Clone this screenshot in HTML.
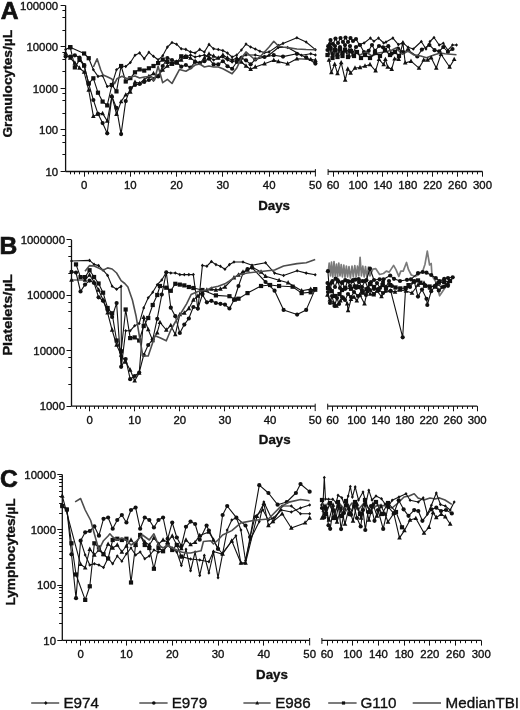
<!DOCTYPE html><html><head><meta charset="utf-8"><style>html,body{margin:0;padding:0;background:#fff;}svg{display:block;}text{font-family:"Liberation Sans",sans-serif;fill:#111;stroke:#111;stroke-width:0.35px;}svg{will-change:transform;}</style></head><body>
<svg width="520" height="710" viewBox="0 0 520 710">
<rect width="520" height="710" fill="#fff"/>
<path d="M65.60 5.40V171.50" stroke="#111" stroke-width="1.3" fill="none"/><text x="58.10" y="9.50" text-anchor="end" font-size="11.4">100000</text><text x="58.10" y="51.02" text-anchor="end" font-size="11.4">10000</text><text x="58.10" y="92.55" text-anchor="end" font-size="11.4">1000</text><text x="58.10" y="134.07" text-anchor="end" font-size="11.4">100</text><text x="58.10" y="175.60" text-anchor="end" font-size="11.4">10</text><path d="M60.60 5.50H65.60M62.40 30.50H65.60M62.40 17.50H65.60M62.40 10.50H65.60M60.60 46.50H65.60M62.40 71.50H65.60M62.40 59.50H65.60M62.40 52.50H65.60M60.60 88.50H65.60M62.40 113.50H65.60M62.40 100.50H65.60M62.40 93.50H65.60M60.60 129.50H65.60M62.40 154.50H65.60M62.40 142.50H65.60M62.40 135.50H65.60M60.60 171.50H65.60" stroke="#111" stroke-width="1" fill="none"/><path d="M65.60 171.50H315.40M328.10 171.50H482.50" stroke="#111" stroke-width="1.3" fill="none"/><text x="84.10" y="189.30" text-anchor="middle" font-size="11.4">0</text><text x="130.36" y="189.30" text-anchor="middle" font-size="11.4">10</text><text x="176.62" y="189.30" text-anchor="middle" font-size="11.4">20</text><text x="222.88" y="189.30" text-anchor="middle" font-size="11.4">30</text><text x="269.14" y="189.30" text-anchor="middle" font-size="11.4">40</text><text x="315.40" y="189.30" text-anchor="middle" font-size="11.4">50</text><text x="333.08" y="189.30" text-anchor="middle" font-size="11.4">60</text><text x="357.98" y="189.30" text-anchor="middle" font-size="11.4">100</text><text x="382.89" y="189.30" text-anchor="middle" font-size="11.4">140</text><text x="407.79" y="189.30" text-anchor="middle" font-size="11.4">180</text><text x="432.69" y="189.30" text-anchor="middle" font-size="11.4">220</text><text x="457.60" y="189.30" text-anchor="middle" font-size="11.4">260</text><text x="482.50" y="189.30" text-anchor="middle" font-size="11.4">300</text><path d="M70.50 171.50v2.8M74.50 171.50v2.8M79.50 171.50v2.8M84.50 171.50v5.2M88.50 171.50v2.8M93.50 171.50v2.8M97.50 171.50v2.8M102.50 171.50v2.8M107.50 171.50v2.8M111.50 171.50v2.8M116.50 171.50v2.8M121.50 171.50v2.8M125.50 171.50v2.8M130.50 171.50v5.2M134.50 171.50v2.8M139.50 171.50v2.8M144.50 171.50v2.8M148.50 171.50v2.8M153.50 171.50v2.8M158.50 171.50v2.8M162.50 171.50v2.8M167.50 171.50v2.8M171.50 171.50v2.8M176.50 171.50v5.2M181.50 171.50v2.8M185.50 171.50v2.8M190.50 171.50v2.8M195.50 171.50v2.8M199.50 171.50v2.8M204.50 171.50v2.8M209.50 171.50v2.8M213.50 171.50v2.8M218.50 171.50v2.8M222.50 171.50v5.2M227.50 171.50v2.8M232.50 171.50v2.8M236.50 171.50v2.8M241.50 171.50v2.8M246.50 171.50v2.8M250.50 171.50v2.8M255.50 171.50v2.8M259.50 171.50v2.8M264.50 171.50v2.8M269.50 171.50v5.2M273.50 171.50v2.8M278.50 171.50v2.8M283.50 171.50v2.8M287.50 171.50v2.8M292.50 171.50v2.8M296.50 171.50v2.8M301.50 171.50v2.8M306.50 171.50v2.8M310.50 171.50v2.8M315.40 169.10V176.50M328.10 169.10V175.00M333.50 171.50v5.2M338.50 171.50v2.8M343.50 171.50v2.8M348.50 171.50v2.8M353.50 171.50v2.8M357.50 171.50v5.2M362.50 171.50v2.8M367.50 171.50v2.8M372.50 171.50v2.8M377.50 171.50v2.8M382.50 171.50v5.2M387.50 171.50v2.8M392.50 171.50v2.8M397.50 171.50v2.8M402.50 171.50v2.8M407.50 171.50v5.2M412.50 171.50v2.8M417.50 171.50v2.8M422.50 171.50v2.8M427.50 171.50v2.8M432.50 171.50v5.2M437.50 171.50v2.8M442.50 171.50v2.8M447.50 171.50v2.8M452.50 171.50v2.8M457.50 171.50v5.2M462.50 171.50v2.8M467.50 171.50v2.8M472.50 171.50v2.8M477.50 171.50v2.8M482.50 171.50v5.2" stroke="#111" stroke-width="1" fill="none"/><text x="274.10" y="209.70" text-anchor="middle" font-size="13.3" font-weight="bold">Days</text><text x="0.8" y="18.8" font-size="24.6" font-weight="bold" style="stroke-width:0.7px">A</text><text transform="translate(11.8 137.6) rotate(-90)" font-size="13.3" font-weight="bold" textLength="107.6" lengthAdjust="spacingAndGlyphs">Granulocytes/µL</text>
<path d="M71.50 239.90V406.10" stroke="#111" stroke-width="1.3" fill="none"/><text x="65.00" y="244.00" text-anchor="end" font-size="11.4">1000000</text><text x="65.00" y="299.40" text-anchor="end" font-size="11.4">100000</text><text x="65.00" y="354.80" text-anchor="end" font-size="11.4">10000</text><text x="65.00" y="410.20" text-anchor="end" font-size="11.4">1000</text><path d="M66.50 239.50H71.50M68.30 273.50H71.50M68.30 256.50H71.50M68.30 246.50H71.50M66.50 295.50H71.50M68.30 328.50H71.50M68.30 311.50H71.50M68.30 302.50H71.50M66.50 350.50H71.50M68.30 384.50H71.50M68.30 367.50H71.50M68.30 357.50H71.50M66.50 406.50H71.50" stroke="#111" stroke-width="1" fill="none"/><path d="M71.50 406.10H315.20M327.70 406.10H477.20" stroke="#111" stroke-width="1.3" fill="none"/><text x="89.55" y="423.90" text-anchor="middle" font-size="11.4">0</text><text x="134.68" y="423.90" text-anchor="middle" font-size="11.4">10</text><text x="179.81" y="423.90" text-anchor="middle" font-size="11.4">20</text><text x="224.94" y="423.90" text-anchor="middle" font-size="11.4">30</text><text x="270.07" y="423.90" text-anchor="middle" font-size="11.4">40</text><text x="315.20" y="423.90" text-anchor="middle" font-size="11.4">50</text><text x="332.52" y="423.90" text-anchor="middle" font-size="11.4">60</text><text x="356.64" y="423.90" text-anchor="middle" font-size="11.4">100</text><text x="380.75" y="423.90" text-anchor="middle" font-size="11.4">140</text><text x="404.86" y="423.90" text-anchor="middle" font-size="11.4">180</text><text x="428.97" y="423.90" text-anchor="middle" font-size="11.4">220</text><text x="453.09" y="423.90" text-anchor="middle" font-size="11.4">260</text><text x="477.20" y="423.90" text-anchor="middle" font-size="11.4">300</text><path d="M76.50 406.10v2.8M80.50 406.10v2.8M85.50 406.10v2.8M89.50 406.10v5.2M94.50 406.10v2.8M98.50 406.10v2.8M103.50 406.10v2.8M107.50 406.10v2.8M112.50 406.10v2.8M116.50 406.10v2.8M121.50 406.10v2.8M125.50 406.10v2.8M130.50 406.10v2.8M134.50 406.10v5.2M139.50 406.10v2.8M143.50 406.10v2.8M148.50 406.10v2.8M152.50 406.10v2.8M157.50 406.10v2.8M161.50 406.10v2.8M166.50 406.10v2.8M170.50 406.10v2.8M175.50 406.10v2.8M179.50 406.10v5.2M184.50 406.10v2.8M188.50 406.10v2.8M193.50 406.10v2.8M197.50 406.10v2.8M202.50 406.10v2.8M206.50 406.10v2.8M211.50 406.10v2.8M215.50 406.10v2.8M220.50 406.10v2.8M224.50 406.10v5.2M229.50 406.10v2.8M233.50 406.10v2.8M238.50 406.10v2.8M242.50 406.10v2.8M247.50 406.10v2.8M252.50 406.10v2.8M256.50 406.10v2.8M261.50 406.10v2.8M265.50 406.10v2.8M270.50 406.10v5.2M274.50 406.10v2.8M279.50 406.10v2.8M283.50 406.10v2.8M288.50 406.10v2.8M292.50 406.10v2.8M297.50 406.10v2.8M301.50 406.10v2.8M306.50 406.10v2.8M310.50 406.10v2.8M315.20 403.70V411.10M327.70 403.70V409.60M332.50 406.10v5.2M337.50 406.10v2.8M342.50 406.10v2.8M346.50 406.10v2.8M351.50 406.10v2.8M356.50 406.10v5.2M361.50 406.10v2.8M366.50 406.10v2.8M371.50 406.10v2.8M375.50 406.10v2.8M380.50 406.10v5.2M385.50 406.10v2.8M390.50 406.10v2.8M395.50 406.10v2.8M400.50 406.10v2.8M404.50 406.10v5.2M409.50 406.10v2.8M414.50 406.10v2.8M419.50 406.10v2.8M424.50 406.10v2.8M428.50 406.10v5.2M433.50 406.10v2.8M438.50 406.10v2.8M443.50 406.10v2.8M448.50 406.10v2.8M453.50 406.10v5.2M457.50 406.10v2.8M462.50 406.10v2.8M467.50 406.10v2.8M472.50 406.10v2.8M477.50 406.10v5.2" stroke="#111" stroke-width="1" fill="none"/><text x="274.75" y="444.30" text-anchor="middle" font-size="13.3" font-weight="bold">Days</text><text x="-0.5" y="253.5" font-size="24.6" font-weight="bold" style="stroke-width:0.7px">B</text><text transform="translate(11.5 355.6) rotate(-90)" font-size="13.3" font-weight="bold" textLength="81.3" lengthAdjust="spacingAndGlyphs">Platelets/µL</text>
<path d="M62.30 474.40V640.40" stroke="#111" stroke-width="1.3" fill="none"/><text x="56.00" y="478.50" text-anchor="end" font-size="11.4">10000</text><text x="56.00" y="533.83" text-anchor="end" font-size="11.4">1000</text><text x="56.00" y="589.17" text-anchor="end" font-size="11.4">100</text><text x="56.00" y="644.50" text-anchor="end" font-size="11.4">10</text><path d="M57.30 474.50H62.30M59.10 513.50H62.30M59.10 503.50H62.30M59.10 496.50H62.30M59.10 491.50H62.30M59.10 486.50H62.30M59.10 482.50H62.30M59.10 479.50H62.30M59.10 476.50H62.30M57.30 529.50H62.30M59.10 568.50H62.30M59.10 558.50H62.30M59.10 551.50H62.30M59.10 546.50H62.30M59.10 542.50H62.30M59.10 538.50H62.30M59.10 535.50H62.30M59.10 532.50H62.30M57.30 585.50H62.30M59.10 623.50H62.30M59.10 613.50H62.30M59.10 607.50H62.30M59.10 601.50H62.30M59.10 597.50H62.30M59.10 593.50H62.30M59.10 590.50H62.30M59.10 587.50H62.30M57.30 640.50H62.30" stroke="#111" stroke-width="1" fill="none"/><path d="M62.30 640.40H309.65M321.90 640.40H481.30" stroke="#111" stroke-width="1.3" fill="none"/><text x="80.62" y="658.20" text-anchor="middle" font-size="11.4">0</text><text x="126.43" y="658.20" text-anchor="middle" font-size="11.4">10</text><text x="172.23" y="658.20" text-anchor="middle" font-size="11.4">20</text><text x="218.04" y="658.20" text-anchor="middle" font-size="11.4">30</text><text x="263.84" y="658.20" text-anchor="middle" font-size="11.4">40</text><text x="309.65" y="658.20" text-anchor="middle" font-size="11.4">50</text><text x="327.04" y="658.20" text-anchor="middle" font-size="11.4">60</text><text x="352.75" y="658.20" text-anchor="middle" font-size="11.4">100</text><text x="378.46" y="658.20" text-anchor="middle" font-size="11.4">140</text><text x="404.17" y="658.20" text-anchor="middle" font-size="11.4">180</text><text x="429.88" y="658.20" text-anchor="middle" font-size="11.4">220</text><text x="455.59" y="658.20" text-anchor="middle" font-size="11.4">260</text><text x="481.30" y="658.20" text-anchor="middle" font-size="11.4">300</text><path d="M66.50 640.40v2.8M71.50 640.40v2.8M76.50 640.40v2.8M80.50 640.40v5.2M85.50 640.40v2.8M89.50 640.40v2.8M94.50 640.40v2.8M98.50 640.40v2.8M103.50 640.40v2.8M108.50 640.40v2.8M112.50 640.40v2.8M117.50 640.40v2.8M121.50 640.40v2.8M126.50 640.40v5.2M131.50 640.40v2.8M135.50 640.40v2.8M140.50 640.40v2.8M144.50 640.40v2.8M149.50 640.40v2.8M153.50 640.40v2.8M158.50 640.40v2.8M163.50 640.40v2.8M167.50 640.40v2.8M172.50 640.40v5.2M176.50 640.40v2.8M181.50 640.40v2.8M185.50 640.40v2.8M190.50 640.40v2.8M195.50 640.40v2.8M199.50 640.40v2.8M204.50 640.40v2.8M208.50 640.40v2.8M213.50 640.40v2.8M218.50 640.40v5.2M222.50 640.40v2.8M227.50 640.40v2.8M231.50 640.40v2.8M236.50 640.40v2.8M240.50 640.40v2.8M245.50 640.40v2.8M250.50 640.40v2.8M254.50 640.40v2.8M259.50 640.40v2.8M263.50 640.40v5.2M268.50 640.40v2.8M273.50 640.40v2.8M277.50 640.40v2.8M282.50 640.40v2.8M286.50 640.40v2.8M291.50 640.40v2.8M295.50 640.40v2.8M300.50 640.40v2.8M305.50 640.40v2.8M309.65 638.00V645.40M321.90 638.00V643.90M327.50 640.40v5.2M332.50 640.40v2.8M337.50 640.40v2.8M342.50 640.40v2.8M347.50 640.40v2.8M352.50 640.40v5.2M357.50 640.40v2.8M363.50 640.40v2.8M368.50 640.40v2.8M373.50 640.40v2.8M378.50 640.40v5.2M383.50 640.40v2.8M388.50 640.40v2.8M393.50 640.40v2.8M399.50 640.40v2.8M404.50 640.40v5.2M409.50 640.40v2.8M414.50 640.40v2.8M419.50 640.40v2.8M424.50 640.40v2.8M429.50 640.40v5.2M435.50 640.40v2.8M440.50 640.40v2.8M445.50 640.40v2.8M450.50 640.40v2.8M455.50 640.40v5.2M460.50 640.40v2.8M465.50 640.40v2.8M471.50 640.40v2.8M476.50 640.40v2.8M481.50 640.40v5.2" stroke="#111" stroke-width="1" fill="none"/><text x="272.00" y="678.60" text-anchor="middle" font-size="13.3" font-weight="bold">Days</text><text x="0" y="486.5" font-size="24.6" font-weight="bold" style="stroke-width:0.7px">C</text><text transform="translate(15.2 605.5) rotate(-90)" font-size="13.3" font-weight="bold" textLength="107" lengthAdjust="spacingAndGlyphs">Lymphocytes/µL</text>
<path d="M65.6 49.5L70.2 47.2L84.1 53.5L88.7 58.2L93.4 69.8L98.0 76.4L102.6 75.6L107.2 86.5L111.9 84.9L116.5 69.8L121.1 66.0L125.7 66.5L130.4 62.5L135.0 55.2L139.6 52.9L144.2 58.7L148.9 52.3L153.5 56.3L158.1 59.8L162.7 55.8L167.4 47.1L172.0 42.5L176.6 44.2L181.2 48.8L185.9 49.4L190.5 51.9L195.1 53.0L199.8 49.4L204.4 52.0L209.0 44.4L213.6 48.8L218.3 49.5L222.9 50.6L227.5 53.1L232.1 57.0L236.8 55.0L241.4 50.0L246.0 44.1L250.6 47.0L255.3 49.0L259.9 51.2L264.5 52.6L269.1 51.9L278.4 45.5L283.0 43.4L296.9 37.8L306.1 42.0L315.4 49.7" stroke="#111" stroke-width="1.1" fill="none" stroke-linejoin="round"/>
<g fill="#111"><path d="M65.60 47.70l1.50 1.80l-1.50 1.80l-1.50 -1.80z"/><rect x="68.13" y="45.10" width="4.20" height="4.20"/><rect x="82.00" y="51.40" width="4.20" height="4.20"/><rect x="86.63" y="56.10" width="4.20" height="4.20"/><path d="M93.36 68.00l1.50 1.80l-1.50 1.80l-1.50 -1.80z"/><path d="M97.98 74.60l1.50 1.80l-1.50 1.80l-1.50 -1.80z"/><path d="M102.61 73.80l1.50 1.80l-1.50 1.80l-1.50 -1.80z"/><path d="M107.23 84.70l1.50 1.80l-1.50 1.80l-1.50 -1.80z"/><path d="M111.86 83.10l1.50 1.80l-1.50 1.80l-1.50 -1.80z"/><path d="M116.49 68.00l1.50 1.80l-1.50 1.80l-1.50 -1.80z"/><path d="M121.11 64.20l1.50 1.80l-1.50 1.80l-1.50 -1.80z"/><path d="M125.74 64.70l1.50 1.80l-1.50 1.80l-1.50 -1.80z"/><path d="M130.36 60.70l1.50 1.80l-1.50 1.80l-1.50 -1.80z"/><path d="M134.99 53.40l1.50 1.80l-1.50 1.80l-1.50 -1.80z"/><path d="M139.61 51.10l1.50 1.80l-1.50 1.80l-1.50 -1.80z"/><path d="M144.24 56.90l1.50 1.80l-1.50 1.80l-1.50 -1.80z"/><path d="M148.87 50.50l1.50 1.80l-1.50 1.80l-1.50 -1.80z"/><path d="M153.49 54.50l1.50 1.80l-1.50 1.80l-1.50 -1.80z"/><path d="M158.12 58.00l1.50 1.80l-1.50 1.80l-1.50 -1.80z"/><path d="M162.74 54.00l1.50 1.80l-1.50 1.80l-1.50 -1.80z"/><path d="M167.37 45.30l1.50 1.80l-1.50 1.80l-1.50 -1.80z"/><path d="M172.00 40.70l1.50 1.80l-1.50 1.80l-1.50 -1.80z"/><path d="M176.62 42.40l1.50 1.80l-1.50 1.80l-1.50 -1.80z"/><path d="M181.25 47.00l1.50 1.80l-1.50 1.80l-1.50 -1.80z"/><path d="M185.87 47.60l1.50 1.80l-1.50 1.80l-1.50 -1.80z"/><path d="M190.50 50.10l1.50 1.80l-1.50 1.80l-1.50 -1.80z"/><path d="M195.13 51.20l1.50 1.80l-1.50 1.80l-1.50 -1.80z"/><path d="M199.75 47.60l1.50 1.80l-1.50 1.80l-1.50 -1.80z"/><path d="M204.38 50.20l1.50 1.80l-1.50 1.80l-1.50 -1.80z"/><path d="M209.00 42.60l1.50 1.80l-1.50 1.80l-1.50 -1.80z"/><path d="M213.63 46.95l1.50 1.80l-1.50 1.80l-1.50 -1.80z"/><path d="M218.26 47.70l1.50 1.80l-1.50 1.80l-1.50 -1.80z"/><path d="M222.88 48.80l1.50 1.80l-1.50 1.80l-1.50 -1.80z"/><path d="M227.51 51.30l1.50 1.80l-1.50 1.80l-1.50 -1.80z"/><path d="M232.13 55.20l1.50 1.80l-1.50 1.80l-1.50 -1.80z"/><path d="M236.76 53.20l1.50 1.80l-1.50 1.80l-1.50 -1.80z"/><path d="M241.39 48.20l1.50 1.80l-1.50 1.80l-1.50 -1.80z"/><path d="M246.01 42.30l1.50 1.80l-1.50 1.80l-1.50 -1.80z"/><path d="M250.64 45.20l1.50 1.80l-1.50 1.80l-1.50 -1.80z"/><path d="M255.26 47.20l1.50 1.80l-1.50 1.80l-1.50 -1.80z"/><path d="M259.89 49.40l1.50 1.80l-1.50 1.80l-1.50 -1.80z"/><path d="M264.51 50.80l1.50 1.80l-1.50 1.80l-1.50 -1.80z"/><path d="M269.14 50.10l1.50 1.80l-1.50 1.80l-1.50 -1.80z"/><path d="M278.39 43.70l1.50 1.80l-1.50 1.80l-1.50 -1.80z"/><path d="M283.02 41.60l1.50 1.80l-1.50 1.80l-1.50 -1.80z"/><path d="M296.90 36.00l1.50 1.80l-1.50 1.80l-1.50 -1.80z"/><path d="M306.15 40.20l1.50 1.80l-1.50 1.80l-1.50 -1.80z"/><path d="M315.40 47.90l1.50 1.80l-1.50 1.80l-1.50 -1.80z"/></g>
<path d="M65.6 56.4L70.2 56.7L74.9 55.3L79.5 57.6L84.1 65.2L88.7 83.8L93.4 100.0L98.0 113.8L102.6 123.1L107.2 133.3L111.9 96.5L116.5 107.9L121.1 134.1L125.7 101.1L130.4 88.0L135.0 85.0L139.6 84.0L144.2 82.0L148.9 80.0L153.5 79.0L158.1 76.5L162.7 66.0L167.4 58.0L172.0 60.0L176.6 62.0L181.2 66.7L185.9 65.0L190.5 67.5L195.1 61.9L199.8 63.1L204.4 61.2L209.0 58.8L213.6 64.4L218.3 64.4L222.9 61.2L227.5 66.2L232.1 68.8L236.8 62.0L241.4 58.0L246.0 60.3L250.6 64.3L255.3 59.4L264.5 57.0L273.8 55.2L283.0 56.6L296.9 53.8L306.1 57.3L315.4 63.6" stroke="#111" stroke-width="1.1" fill="none" stroke-linejoin="round"/>
<g fill="#111"><circle cx="65.60" cy="56.40" r="2.1"/><circle cx="70.23" cy="56.70" r="2.1"/><circle cx="74.85" cy="55.30" r="2.1"/><circle cx="79.48" cy="57.60" r="2.1"/><circle cx="84.10" cy="65.20" r="2.1"/><circle cx="88.73" cy="83.80" r="2.1"/><circle cx="93.36" cy="100.00" r="2.1"/><circle cx="97.98" cy="113.80" r="2.1"/><circle cx="102.61" cy="123.10" r="2.1"/><circle cx="107.23" cy="133.30" r="2.1"/><circle cx="111.86" cy="96.50" r="2.1"/><circle cx="116.49" cy="107.90" r="2.1"/><circle cx="121.11" cy="134.10" r="2.1"/><circle cx="125.74" cy="101.10" r="2.1"/><circle cx="130.36" cy="88.00" r="2.1"/><circle cx="134.99" cy="85.00" r="2.1"/><circle cx="139.61" cy="84.00" r="2.1"/><circle cx="144.24" cy="82.00" r="2.1"/><circle cx="148.87" cy="80.00" r="2.1"/><circle cx="153.49" cy="79.00" r="2.1"/><circle cx="158.12" cy="76.50" r="2.1"/><circle cx="162.74" cy="66.00" r="2.1"/><circle cx="167.37" cy="58.00" r="2.1"/><circle cx="172.00" cy="60.00" r="2.1"/><circle cx="176.62" cy="62.00" r="2.1"/><circle cx="181.25" cy="66.70" r="2.1"/><circle cx="185.87" cy="65.00" r="2.1"/><circle cx="190.50" cy="67.50" r="2.1"/><circle cx="195.13" cy="61.90" r="2.1"/><circle cx="199.75" cy="63.10" r="2.1"/><circle cx="204.38" cy="61.25" r="2.1"/><circle cx="209.00" cy="58.75" r="2.1"/><circle cx="213.63" cy="64.40" r="2.1"/><circle cx="218.26" cy="64.40" r="2.1"/><circle cx="222.88" cy="61.25" r="2.1"/><circle cx="227.51" cy="66.25" r="2.1"/><circle cx="232.13" cy="68.75" r="2.1"/><circle cx="236.76" cy="62.00" r="2.1"/><circle cx="241.39" cy="58.00" r="2.1"/><circle cx="246.01" cy="60.30" r="2.1"/><circle cx="250.64" cy="64.30" r="2.1"/><circle cx="255.26" cy="59.40" r="2.1"/><circle cx="264.51" cy="57.00" r="2.1"/><circle cx="273.77" cy="55.20" r="2.1"/><circle cx="283.02" cy="56.60" r="2.1"/><circle cx="296.90" cy="53.80" r="2.1"/><circle cx="306.15" cy="57.30" r="2.1"/><circle cx="315.40" cy="63.60" r="2.1"/></g>
<path d="M65.6 53.0L70.2 58.0L74.9 63.0L79.5 68.0L84.1 72.1L88.7 90.0L93.4 116.3L98.0 114.0L102.6 113.4L107.2 121.0L111.9 96.0L116.5 114.2L121.1 101.6L125.7 94.8L130.4 91.9L135.0 82.1L139.6 83.3L144.2 79.8L148.9 76.3L153.5 73.5L158.1 75.8L162.7 70.0L167.4 66.0L172.0 64.0L176.6 62.0L181.2 60.0L185.9 56.2L190.5 58.1L195.1 61.2L199.8 63.1L204.4 58.0L209.0 54.0L213.6 56.0L218.3 58.0L222.9 55.0L227.5 58.0L232.1 60.0L236.8 58.0L241.4 62.0L246.0 66.0L250.6 69.2L255.3 67.0L264.5 63.7L273.8 60.2L278.4 61.6L287.6 63.7L296.9 58.8L310.8 59.4L315.4 60.2" stroke="#111" stroke-width="1.1" fill="none" stroke-linejoin="round"/>
<g fill="#111"><path d="M65.60 50.36l2.30 4.37h-4.60z"/><path d="M70.23 55.36l2.30 4.37h-4.60z"/><path d="M74.85 60.36l2.30 4.37h-4.60z"/><path d="M79.48 65.36l2.30 4.37h-4.60z"/><path d="M84.10 69.45l2.30 4.37h-4.60z"/><path d="M88.73 87.36l2.30 4.37h-4.60z"/><path d="M93.36 113.66l2.30 4.37h-4.60z"/><path d="M97.98 111.36l2.30 4.37h-4.60z"/><path d="M102.61 110.76l2.30 4.37h-4.60z"/><path d="M107.23 118.36l2.30 4.37h-4.60z"/><path d="M111.86 93.36l2.30 4.37h-4.60z"/><path d="M116.49 111.56l2.30 4.37h-4.60z"/><path d="M121.11 98.95l2.30 4.37h-4.60z"/><path d="M125.74 92.16l2.30 4.37h-4.60z"/><path d="M130.36 89.26l2.30 4.37h-4.60z"/><path d="M134.99 79.45l2.30 4.37h-4.60z"/><path d="M139.61 80.66l2.30 4.37h-4.60z"/><path d="M144.24 77.16l2.30 4.37h-4.60z"/><path d="M148.87 73.66l2.30 4.37h-4.60z"/><path d="M153.49 70.86l2.30 4.37h-4.60z"/><path d="M158.12 73.16l2.30 4.37h-4.60z"/><path d="M162.74 67.36l2.30 4.37h-4.60z"/><path d="M167.37 63.36l2.30 4.37h-4.60z"/><path d="M172.00 61.36l2.30 4.37h-4.60z"/><path d="M176.62 59.36l2.30 4.37h-4.60z"/><path d="M181.25 57.36l2.30 4.37h-4.60z"/><path d="M185.87 53.61l2.30 4.37h-4.60z"/><path d="M190.50 55.45l2.30 4.37h-4.60z"/><path d="M195.13 58.61l2.30 4.37h-4.60z"/><path d="M199.75 60.45l2.30 4.37h-4.60z"/><path d="M204.38 55.36l2.30 4.37h-4.60z"/><path d="M209.00 51.36l2.30 4.37h-4.60z"/><path d="M213.63 53.36l2.30 4.37h-4.60z"/><path d="M218.26 55.36l2.30 4.37h-4.60z"/><path d="M222.88 52.36l2.30 4.37h-4.60z"/><path d="M227.51 55.36l2.30 4.37h-4.60z"/><path d="M232.13 57.36l2.30 4.37h-4.60z"/><path d="M236.76 55.36l2.30 4.37h-4.60z"/><path d="M241.39 59.36l2.30 4.37h-4.60z"/><path d="M246.01 63.36l2.30 4.37h-4.60z"/><path d="M250.64 66.56l2.30 4.37h-4.60z"/><path d="M255.26 64.36l2.30 4.37h-4.60z"/><path d="M264.51 61.06l2.30 4.37h-4.60z"/><path d="M273.77 57.56l2.30 4.37h-4.60z"/><path d="M278.39 58.95l2.30 4.37h-4.60z"/><path d="M287.64 61.06l2.30 4.37h-4.60z"/><path d="M296.90 56.16l2.30 4.37h-4.60z"/><path d="M310.77 56.75l2.30 4.37h-4.60z"/><path d="M315.40 57.56l2.30 4.37h-4.60z"/></g>
<path d="M70.2 47.2L74.9 67.4L79.5 59.9L84.1 65.7L88.7 83.4L93.4 78.3L98.0 92.7L102.6 101.6L107.2 105.4L111.9 85.0L116.5 91.4L121.1 66.0L125.7 81.5L130.4 78.1L135.0 72.3L139.6 69.4L144.2 70.6L148.9 68.3L153.5 66.0L158.1 63.1L162.7 59.6L167.4 61.9L172.0 63.7L176.6 62.7L181.2 56.3L185.9 56.9" stroke="#111" stroke-width="1.1" fill="none" stroke-linejoin="round"/>
<g fill="#111"><rect x="68.13" y="45.10" width="4.20" height="4.20"/><rect x="72.75" y="65.30" width="4.20" height="4.20"/><rect x="77.38" y="57.80" width="4.20" height="4.20"/><rect x="82.00" y="63.60" width="4.20" height="4.20"/><rect x="86.63" y="81.30" width="4.20" height="4.20"/><rect x="91.26" y="76.20" width="4.20" height="4.20"/><rect x="95.88" y="90.60" width="4.20" height="4.20"/><rect x="100.51" y="99.50" width="4.20" height="4.20"/><rect x="105.13" y="103.30" width="4.20" height="4.20"/><rect x="109.76" y="82.90" width="4.20" height="4.20"/><rect x="114.39" y="89.30" width="4.20" height="4.20"/><rect x="119.01" y="63.90" width="4.20" height="4.20"/><rect x="123.64" y="79.40" width="4.20" height="4.20"/><rect x="128.26" y="76.00" width="4.20" height="4.20"/><rect x="132.89" y="70.20" width="4.20" height="4.20"/><rect x="137.51" y="67.30" width="4.20" height="4.20"/><rect x="142.14" y="68.50" width="4.20" height="4.20"/><rect x="146.77" y="66.20" width="4.20" height="4.20"/><rect x="151.39" y="63.90" width="4.20" height="4.20"/><rect x="156.02" y="61.00" width="4.20" height="4.20"/><rect x="160.64" y="57.50" width="4.20" height="4.20"/><rect x="165.27" y="59.80" width="4.20" height="4.20"/><rect x="169.90" y="61.60" width="4.20" height="4.20"/><rect x="174.52" y="60.60" width="4.20" height="4.20"/><rect x="179.15" y="54.20" width="4.20" height="4.20"/><rect x="183.77" y="54.80" width="4.20" height="4.20"/></g>
<path d="M185.9 56.9L190.5 55.0L195.1 57.0L199.8 56.0L204.4 55.0L209.0 57.0L213.6 60.0L218.3 58.0L222.9 57.0L227.5 60.0L232.1 62.0L236.8 60.0L241.4 57.0L246.0 55.0L255.3 55.0L264.5 57.0L269.1 55.0L278.4 47.5L287.6 47.5L301.5 55.2L310.8 53.8L315.4 55.0" stroke="#111" stroke-width="1.1" fill="none" stroke-linejoin="round"/>
<g fill="#111"><path d="M185.87 55.10l1.50 1.80l-1.50 1.80l-1.50 -1.80z"/><path d="M190.50 53.20l1.50 1.80l-1.50 1.80l-1.50 -1.80z"/><path d="M195.13 55.20l1.50 1.80l-1.50 1.80l-1.50 -1.80z"/><path d="M199.75 54.20l1.50 1.80l-1.50 1.80l-1.50 -1.80z"/><path d="M204.38 53.20l1.50 1.80l-1.50 1.80l-1.50 -1.80z"/><path d="M209.00 55.20l1.50 1.80l-1.50 1.80l-1.50 -1.80z"/><path d="M213.63 58.20l1.50 1.80l-1.50 1.80l-1.50 -1.80z"/><path d="M218.26 56.20l1.50 1.80l-1.50 1.80l-1.50 -1.80z"/><path d="M222.88 55.20l1.50 1.80l-1.50 1.80l-1.50 -1.80z"/><path d="M227.51 58.20l1.50 1.80l-1.50 1.80l-1.50 -1.80z"/><path d="M232.13 60.20l1.50 1.80l-1.50 1.80l-1.50 -1.80z"/><path d="M236.76 58.20l1.50 1.80l-1.50 1.80l-1.50 -1.80z"/><path d="M241.39 55.20l1.50 1.80l-1.50 1.80l-1.50 -1.80z"/><path d="M246.01 53.20l1.50 1.80l-1.50 1.80l-1.50 -1.80z"/><path d="M255.26 53.20l1.50 1.80l-1.50 1.80l-1.50 -1.80z"/><path d="M264.51 55.20l1.50 1.80l-1.50 1.80l-1.50 -1.80z"/><path d="M269.14 53.20l1.50 1.80l-1.50 1.80l-1.50 -1.80z"/><path d="M278.39 45.70l1.50 1.80l-1.50 1.80l-1.50 -1.80z"/><path d="M287.64 45.70l1.50 1.80l-1.50 1.80l-1.50 -1.80z"/><path d="M301.52 53.40l1.50 1.80l-1.50 1.80l-1.50 -1.80z"/><path d="M310.77 52.00l1.50 1.80l-1.50 1.80l-1.50 -1.80z"/><path d="M315.40 53.20l1.50 1.80l-1.50 1.80l-1.50 -1.80z"/></g>
<path d="M93.4 67.0L97.1 58.8L100.8 70.0L103.1 75.0L107.2 76.8L111.9 79.0L114.6 83.7L116.9 78.8L122.0 76.2L127.1 78.8L130.4 77.0L135.0 76.0L139.6 78.0L144.2 77.0L148.9 76.5L151.6 76.5L153.5 81.2L155.3 76.5L158.1 66.2L162.7 82.7L167.4 79.4L172.0 83.5L179.4 69.6L185.9 71.3L190.5 68.5L195.1 65.0L199.8 64.0L204.4 67.0L209.0 66.0L213.6 67.0L218.3 67.0L222.9 68.8L227.5 71.2L232.1 73.8L236.8 68.0L241.4 58.0L246.0 51.9L250.6 56.0L255.3 60.0L259.9 57.0L264.5 52.0L269.1 47.0L273.8 41.3L278.4 46.0L283.0 47.0L287.6 47.6L296.9 49.0L306.1 49.5L315.4 49.7" stroke="#4d4d4d" stroke-width="1.6" fill="none" stroke-linejoin="round"/>
<path d="M328.2 46.2L330.5 40.0L333.0 44.0L335.5 38.5L338.0 43.0L340.5 38.0L343.0 42.0L345.5 37.5L348.0 42.0L350.5 38.0L353.0 41.0L356.0 39.0L359.2 44.6L364.1 43.0L370.4 38.1L373.9 41.3L378.5 38.1L383.7 43.0L386.0 42.1L392.9 38.1L398.4 44.6L402.9 42.7L408.1 47.3L413.3 49.0L421.3 41.5L426.0 49.0L430.0 41.5L434.0 37.5L439.2 45.0L443.3 43.3L447.9 50.2L452.5 45.0L456.5 45.0" stroke="#111" stroke-width="1.1" fill="none" stroke-linejoin="round"/>
<g fill="#111"><circle cx="328.20" cy="46.20" r="2.1"/><circle cx="330.50" cy="40.00" r="2.1"/><circle cx="333.00" cy="44.00" r="2.1"/><circle cx="335.50" cy="38.50" r="2.1"/><circle cx="338.00" cy="43.00" r="2.1"/><circle cx="340.50" cy="38.00" r="2.1"/><circle cx="343.00" cy="42.00" r="2.1"/><circle cx="345.50" cy="37.50" r="2.1"/><circle cx="348.00" cy="42.00" r="2.1"/><circle cx="350.50" cy="38.00" r="2.1"/><circle cx="353.00" cy="41.00" r="2.1"/><circle cx="356.00" cy="39.00" r="2.1"/><path d="M359.20 42.80l1.50 1.80l-1.50 1.80l-1.50 -1.80z"/><path d="M364.10 41.20l1.50 1.80l-1.50 1.80l-1.50 -1.80z"/><path d="M370.40 36.30l1.50 1.80l-1.50 1.80l-1.50 -1.80z"/><path d="M373.90 39.50l1.50 1.80l-1.50 1.80l-1.50 -1.80z"/><path d="M378.50 36.30l1.50 1.80l-1.50 1.80l-1.50 -1.80z"/><path d="M383.70 41.20l1.50 1.80l-1.50 1.80l-1.50 -1.80z"/><path d="M386.00 40.30l1.50 1.80l-1.50 1.80l-1.50 -1.80z"/><path d="M392.90 36.30l1.50 1.80l-1.50 1.80l-1.50 -1.80z"/><path d="M398.40 42.80l1.50 1.80l-1.50 1.80l-1.50 -1.80z"/><path d="M402.90 40.90l1.50 1.80l-1.50 1.80l-1.50 -1.80z"/><path d="M408.10 45.50l1.50 1.80l-1.50 1.80l-1.50 -1.80z"/><path d="M413.30 47.20l1.50 1.80l-1.50 1.80l-1.50 -1.80z"/><path d="M421.30 39.70l1.50 1.80l-1.50 1.80l-1.50 -1.80z"/><path d="M426.00 47.20l1.50 1.80l-1.50 1.80l-1.50 -1.80z"/><path d="M430.00 39.70l1.50 1.80l-1.50 1.80l-1.50 -1.80z"/><path d="M434.00 35.70l1.50 1.80l-1.50 1.80l-1.50 -1.80z"/><path d="M439.20 43.20l1.50 1.80l-1.50 1.80l-1.50 -1.80z"/><path d="M443.30 41.50l1.50 1.80l-1.50 1.80l-1.50 -1.80z"/><path d="M447.90 48.40l1.50 1.80l-1.50 1.80l-1.50 -1.80z"/><path d="M452.50 43.20l1.50 1.80l-1.50 1.80l-1.50 -1.80z"/><path d="M456.50 43.20l1.50 1.80l-1.50 1.80l-1.50 -1.80z"/></g>
<path d="M327.5 50.0L330.0 44.0L332.5 54.0L335.0 46.0L337.5 55.0L340.0 47.0L342.5 53.0L345.0 45.0L347.5 52.0L350.0 46.0L353.0 53.0L356.0 47.0L360.0 45.0L364.0 52.0L368.7 50.8L372.0 45.0L375.0 50.8L379.0 46.0L383.0 47.3L388.3 46.2L391.7 53.7L398.0 48.5L403.0 52.0L408.1 50.2L417.3 56.5L421.9 49.6L429.4 45.0L434.6 50.2L439.2 51.3L443.3 47.0L447.9 52.0L452.5 49.0" stroke="#111" stroke-width="1.1" fill="none" stroke-linejoin="round"/>
<g fill="#111"><circle cx="327.50" cy="50.00" r="2.1"/><circle cx="330.00" cy="44.00" r="2.1"/><circle cx="332.50" cy="54.00" r="2.1"/><circle cx="335.00" cy="46.00" r="2.1"/><circle cx="337.50" cy="55.00" r="2.1"/><circle cx="340.00" cy="47.00" r="2.1"/><circle cx="342.50" cy="53.00" r="2.1"/><circle cx="345.00" cy="45.00" r="2.1"/><circle cx="347.50" cy="52.00" r="2.1"/><circle cx="350.00" cy="46.00" r="2.1"/><circle cx="353.00" cy="53.00" r="2.1"/><circle cx="356.00" cy="47.00" r="2.1"/><circle cx="360.00" cy="45.00" r="2.1"/><circle cx="364.00" cy="52.00" r="2.1"/><circle cx="368.70" cy="50.80" r="2.1"/><circle cx="372.00" cy="45.00" r="2.1"/><circle cx="375.00" cy="50.80" r="2.1"/><circle cx="379.00" cy="46.00" r="2.1"/><circle cx="383.00" cy="47.30" r="2.1"/><circle cx="388.30" cy="46.20" r="2.1"/><circle cx="391.70" cy="53.70" r="2.1"/><circle cx="398.00" cy="48.50" r="2.1"/><circle cx="403.00" cy="52.00" r="2.1"/><circle cx="408.10" cy="50.20" r="2.1"/><circle cx="417.30" cy="56.50" r="2.1"/><circle cx="421.90" cy="49.60" r="2.1"/><circle cx="429.40" cy="45.00" r="2.1"/><circle cx="434.60" cy="50.20" r="2.1"/><circle cx="439.20" cy="51.30" r="2.1"/><circle cx="443.30" cy="47.00" r="2.1"/><circle cx="447.90" cy="52.00" r="2.1"/><circle cx="452.50" cy="49.00" r="2.1"/></g>
<path d="M329.0 55.0L332.0 47.0L335.0 56.0L338.0 49.0L342.0 56.0L346.0 50.0L350.0 57.0L355.0 52.0L360.0 55.0L366.0 52.0L372.0 56.0L378.0 53.0L385.0 52.0L392.0 50.0L396.0 48.0L402.3 54.2L408.0 51.0L414.0 55.0L420.8 56.0L426.5 57.7L434.6 54.8L440.4 53.0L445.0 53.7L456.5 54.8" stroke="#4d4d4d" stroke-width="1.6" fill="none" stroke-linejoin="round"/>
<path d="M329.0 60.0L331.4 72.4L334.7 64.2L337.5 73.5L341.2 62.6L345.2 80.0L347.8 69.0L350.6 73.0L355.0 68.0L360.0 67.5L365.0 66.0L370.0 64.5L375.6 70.8L379.0 59.4L383.7 64.6L385.4 59.4L387.7 67.0L391.7 69.2L394.6 58.8L398.7 59.4L402.9 42.7L405.2 62.9L411.0 61.2L419.0 68.1L423.7 60.0L427.7 60.0L431.2 57.7L436.3 68.1L441.0 54.2L449.6 67.0L454.2 59.4" stroke="#111" stroke-width="1.1" fill="none" stroke-linejoin="round"/>
<g fill="#111"><path d="M329.00 57.36l2.30 4.37h-4.60z"/><path d="M331.40 69.76l2.30 4.37h-4.60z"/><path d="M334.70 61.56l2.30 4.37h-4.60z"/><path d="M337.50 70.86l2.30 4.37h-4.60z"/><path d="M341.20 59.95l2.30 4.37h-4.60z"/><path d="M345.20 77.36l2.30 4.37h-4.60z"/><path d="M347.80 66.36l2.30 4.37h-4.60z"/><path d="M350.60 70.36l2.30 4.37h-4.60z"/><path d="M355.00 65.36l2.30 4.37h-4.60z"/><path d="M360.00 64.86l2.30 4.37h-4.60z"/><path d="M365.00 63.36l2.30 4.37h-4.60z"/><path d="M370.00 61.86l2.30 4.37h-4.60z"/><path d="M375.60 68.11l2.30 4.37h-4.60z"/><path d="M379.00 56.75l2.30 4.37h-4.60z"/><path d="M383.70 61.95l2.30 4.37h-4.60z"/><path d="M385.40 56.75l2.30 4.37h-4.60z"/><path d="M387.70 64.36l2.30 4.37h-4.60z"/><path d="M391.70 66.56l2.30 4.37h-4.60z"/><path d="M394.60 56.16l2.30 4.37h-4.60z"/><path d="M398.70 56.75l2.30 4.37h-4.60z"/><path d="M402.90 40.06l2.30 4.37h-4.60z"/><path d="M405.20 60.25l2.30 4.37h-4.60z"/><path d="M411.00 58.56l2.30 4.37h-4.60z"/><path d="M419.00 65.45l2.30 4.37h-4.60z"/><path d="M423.70 57.36l2.30 4.37h-4.60z"/><path d="M427.70 57.36l2.30 4.37h-4.60z"/><path d="M431.20 55.06l2.30 4.37h-4.60z"/><path d="M436.30 65.45l2.30 4.37h-4.60z"/><path d="M441.00 51.56l2.30 4.37h-4.60z"/><path d="M449.60 64.36l2.30 4.37h-4.60z"/><path d="M454.20 56.75l2.30 4.37h-4.60z"/></g>
<path d="M327.5 55.0L330.0 48.0L332.5 58.0L335.0 50.0L337.5 57.0L340.0 49.0L342.5 56.0L345.0 50.0L348.0 57.0L351.0 51.0L354.0 56.0L357.0 52.0L361.0 58.0L365.0 55.0L370.0 58.0L375.0 53.0L380.0 56.0L385.0 50.0L390.0 55.0L395.0 52.0L399.0 56.0" stroke="#111" stroke-width="1.1" fill="none" stroke-linejoin="round"/>
<g fill="#111"><rect x="325.40" y="52.90" width="4.20" height="4.20"/><rect x="327.90" y="45.90" width="4.20" height="4.20"/><rect x="330.40" y="55.90" width="4.20" height="4.20"/><rect x="332.90" y="47.90" width="4.20" height="4.20"/><rect x="335.40" y="54.90" width="4.20" height="4.20"/><rect x="337.90" y="46.90" width="4.20" height="4.20"/><rect x="340.40" y="53.90" width="4.20" height="4.20"/><rect x="342.90" y="47.90" width="4.20" height="4.20"/><rect x="345.90" y="54.90" width="4.20" height="4.20"/><rect x="348.90" y="48.90" width="4.20" height="4.20"/><rect x="351.90" y="53.90" width="4.20" height="4.20"/><rect x="354.90" y="49.90" width="4.20" height="4.20"/><rect x="358.90" y="55.90" width="4.20" height="4.20"/><rect x="362.90" y="52.90" width="4.20" height="4.20"/><rect x="367.90" y="55.90" width="4.20" height="4.20"/><rect x="372.90" y="50.90" width="4.20" height="4.20"/><rect x="377.90" y="53.90" width="4.20" height="4.20"/><rect x="382.90" y="47.90" width="4.20" height="4.20"/><rect x="387.90" y="52.90" width="4.20" height="4.20"/><rect x="392.90" y="49.90" width="4.20" height="4.20"/><rect x="396.90" y="53.90" width="4.20" height="4.20"/></g>
<path d="M71.5 261.0L89.6 260.4L94.1 264.4L98.6 265.6L103.1 270.2L107.6 275.4L112.1 286.3L116.6 289.3L121.1 286.2L121.4 366.3L125.7 330.8L130.2 330.8L134.7 325.7L139.2 323.4L143.7 307.9L148.2 297.8L152.7 292.3L157.2 284.7L161.8 280.0L166.3 272.3L170.8 273.0L175.3 273.0L179.8 274.6L184.3 274.6L188.8 274.6L193.3 274.6L197.9 309.2L202.4 265.4L206.9 266.2L211.4 261.5L215.9 264.6L220.4 266.2L224.9 269.2L229.5 264.6L234.0 262.0L243.0 262.0L252.0 265.2L265.6 262.8L274.6 273.1L283.6 275.5L297.1 270.8L306.2 273.1L315.2 274.7" stroke="#111" stroke-width="1.1" fill="none" stroke-linejoin="round"/>
<g fill="#111"><path d="M71.50 259.20l1.50 1.80l-1.50 1.80l-1.50 -1.80z"/><path d="M89.55 258.60l1.50 1.80l-1.50 1.80l-1.50 -1.80z"/><path d="M94.06 262.60l1.50 1.80l-1.50 1.80l-1.50 -1.80z"/><path d="M98.58 263.80l1.50 1.80l-1.50 1.80l-1.50 -1.80z"/><path d="M103.09 268.40l1.50 1.80l-1.50 1.80l-1.50 -1.80z"/><path d="M107.60 273.60l1.50 1.80l-1.50 1.80l-1.50 -1.80z"/><path d="M112.12 284.50l1.50 1.80l-1.50 1.80l-1.50 -1.80z"/><path d="M116.63 287.50l1.50 1.80l-1.50 1.80l-1.50 -1.80z"/><path d="M121.14 284.40l1.50 1.80l-1.50 1.80l-1.50 -1.80z"/><path d="M121.37 364.50l1.50 1.80l-1.50 1.80l-1.50 -1.80z"/><path d="M125.66 329.00l1.50 1.80l-1.50 1.80l-1.50 -1.80z"/><path d="M130.17 329.00l1.50 1.80l-1.50 1.80l-1.50 -1.80z"/><path d="M134.68 323.90l1.50 1.80l-1.50 1.80l-1.50 -1.80z"/><path d="M139.19 321.60l1.50 1.80l-1.50 1.80l-1.50 -1.80z"/><path d="M143.71 306.10l1.50 1.80l-1.50 1.80l-1.50 -1.80z"/><path d="M148.22 296.00l1.50 1.80l-1.50 1.80l-1.50 -1.80z"/><path d="M152.73 290.50l1.50 1.80l-1.50 1.80l-1.50 -1.80z"/><path d="M157.25 282.90l1.50 1.80l-1.50 1.80l-1.50 -1.80z"/><path d="M161.76 278.20l1.50 1.80l-1.50 1.80l-1.50 -1.80z"/><path d="M166.27 270.50l1.50 1.80l-1.50 1.80l-1.50 -1.80z"/><path d="M170.79 271.20l1.50 1.80l-1.50 1.80l-1.50 -1.80z"/><path d="M175.30 271.20l1.50 1.80l-1.50 1.80l-1.50 -1.80z"/><path d="M179.81 272.80l1.50 1.80l-1.50 1.80l-1.50 -1.80z"/><path d="M184.32 272.80l1.50 1.80l-1.50 1.80l-1.50 -1.80z"/><path d="M188.84 272.80l1.50 1.80l-1.50 1.80l-1.50 -1.80z"/><path d="M193.35 272.80l1.50 1.80l-1.50 1.80l-1.50 -1.80z"/><path d="M197.86 307.40l1.50 1.80l-1.50 1.80l-1.50 -1.80z"/><path d="M202.38 263.60l1.50 1.80l-1.50 1.80l-1.50 -1.80z"/><path d="M206.89 264.40l1.50 1.80l-1.50 1.80l-1.50 -1.80z"/><path d="M211.40 259.70l1.50 1.80l-1.50 1.80l-1.50 -1.80z"/><path d="M215.91 262.80l1.50 1.80l-1.50 1.80l-1.50 -1.80z"/><path d="M220.43 264.40l1.50 1.80l-1.50 1.80l-1.50 -1.80z"/><path d="M224.94 267.40l1.50 1.80l-1.50 1.80l-1.50 -1.80z"/><path d="M229.45 262.80l1.50 1.80l-1.50 1.80l-1.50 -1.80z"/><path d="M233.97 260.20l1.50 1.80l-1.50 1.80l-1.50 -1.80z"/><path d="M242.99 260.20l1.50 1.80l-1.50 1.80l-1.50 -1.80z"/><path d="M252.02 263.40l1.50 1.80l-1.50 1.80l-1.50 -1.80z"/><path d="M265.56 261.00l1.50 1.80l-1.50 1.80l-1.50 -1.80z"/><path d="M274.58 271.30l1.50 1.80l-1.50 1.80l-1.50 -1.80z"/><path d="M283.61 273.70l1.50 1.80l-1.50 1.80l-1.50 -1.80z"/><path d="M297.15 269.00l1.50 1.80l-1.50 1.80l-1.50 -1.80z"/><path d="M306.17 271.30l1.50 1.80l-1.50 1.80l-1.50 -1.80z"/><path d="M315.20 272.90l1.50 1.80l-1.50 1.80l-1.50 -1.80z"/></g>
<path d="M71.5 271.9L76.0 272.5L80.5 291.5L85.0 284.6L89.6 280.6L94.1 283.0L98.6 297.3L103.1 300.8L107.6 310.0L112.1 317.0L116.6 303.1L121.1 366.8L125.7 359.0L130.2 379.2L134.7 376.0L139.2 372.5L143.7 355.0L148.2 345.0L152.7 339.6L157.2 318.8L161.8 294.6L166.3 272.3L170.8 307.7L175.3 316.2L179.8 333.0L184.3 324.6L188.8 318.5L193.3 307.0L197.9 308.5L202.4 294.6L206.9 302.3L211.4 300.8L215.9 303.0L220.4 303.8L224.9 304.6L229.5 308.5L234.0 300.0L238.5 286.0L243.0 273.1L247.5 269.2L252.0 267.6L265.6 282.0L274.6 290.7L283.6 309.9L297.1 314.6L306.2 309.9L315.2 289.1" stroke="#111" stroke-width="1.1" fill="none" stroke-linejoin="round"/>
<g fill="#111"><circle cx="71.50" cy="271.90" r="2.1"/><circle cx="76.01" cy="272.50" r="2.1"/><circle cx="80.53" cy="291.50" r="2.1"/><circle cx="85.04" cy="284.60" r="2.1"/><circle cx="89.55" cy="280.60" r="2.1"/><circle cx="94.06" cy="283.00" r="2.1"/><circle cx="98.58" cy="297.30" r="2.1"/><circle cx="103.09" cy="300.80" r="2.1"/><circle cx="107.60" cy="310.00" r="2.1"/><circle cx="112.12" cy="317.00" r="2.1"/><circle cx="116.63" cy="303.10" r="2.1"/><circle cx="121.14" cy="366.80" r="2.1"/><circle cx="125.66" cy="359.00" r="2.1"/><circle cx="130.17" cy="379.20" r="2.1"/><circle cx="134.68" cy="376.00" r="2.1"/><circle cx="139.19" cy="372.50" r="2.1"/><circle cx="143.71" cy="355.00" r="2.1"/><circle cx="148.22" cy="345.00" r="2.1"/><circle cx="152.73" cy="339.60" r="2.1"/><circle cx="157.25" cy="318.80" r="2.1"/><circle cx="161.76" cy="294.60" r="2.1"/><circle cx="166.27" cy="272.30" r="2.1"/><circle cx="170.79" cy="307.70" r="2.1"/><circle cx="175.30" cy="316.20" r="2.1"/><circle cx="179.81" cy="333.00" r="2.1"/><circle cx="184.32" cy="324.60" r="2.1"/><circle cx="188.84" cy="318.50" r="2.1"/><circle cx="193.35" cy="307.00" r="2.1"/><circle cx="197.86" cy="308.50" r="2.1"/><circle cx="202.38" cy="294.60" r="2.1"/><circle cx="206.89" cy="302.30" r="2.1"/><circle cx="211.40" cy="300.80" r="2.1"/><circle cx="215.91" cy="303.00" r="2.1"/><circle cx="220.43" cy="303.80" r="2.1"/><circle cx="224.94" cy="304.60" r="2.1"/><circle cx="229.45" cy="308.50" r="2.1"/><circle cx="233.97" cy="300.00" r="2.1"/><circle cx="238.48" cy="286.00" r="2.1"/><circle cx="242.99" cy="273.10" r="2.1"/><circle cx="247.51" cy="269.20" r="2.1"/><circle cx="252.02" cy="267.60" r="2.1"/><circle cx="265.56" cy="282.00" r="2.1"/><circle cx="274.58" cy="290.70" r="2.1"/><circle cx="283.61" cy="309.90" r="2.1"/><circle cx="297.15" cy="314.60" r="2.1"/><circle cx="306.17" cy="309.90" r="2.1"/><circle cx="315.20" cy="289.10" r="2.1"/></g>
<path d="M71.5 280.0L85.0 280.0L89.6 275.0L94.1 282.0L98.6 290.0L103.1 300.0L107.6 312.9L112.1 330.0L116.6 345.0L121.1 355.0L125.7 362.0L130.2 370.0L134.7 380.8L139.2 373.0L143.7 317.2L148.2 329.6L152.7 340.5L157.2 332.7L160.0 322.3L166.3 330.0L170.8 325.4L175.3 334.6L179.8 314.6L184.3 313.0L188.8 308.5L193.3 300.0L197.9 296.0L202.4 292.0L206.9 290.0L211.4 289.0L215.9 290.0L220.4 289.0L224.9 287.0L234.0 277.7L238.5 275.0L243.0 272.0L247.5 270.0L252.0 267.0L261.0 272.0L265.6 276.3L279.1 280.3L288.1 282.7L301.7 290.7L310.7 289.1L315.2 290.0" stroke="#111" stroke-width="1.1" fill="none" stroke-linejoin="round"/>
<g fill="#111"><path d="M71.50 277.36l2.30 4.37h-4.60z"/><path d="M85.04 277.36l2.30 4.37h-4.60z"/><path d="M89.55 272.36l2.30 4.37h-4.60z"/><path d="M94.06 279.36l2.30 4.37h-4.60z"/><path d="M98.58 287.36l2.30 4.37h-4.60z"/><path d="M103.09 297.36l2.30 4.37h-4.60z"/><path d="M107.60 310.25l2.30 4.37h-4.60z"/><path d="M112.12 327.36l2.30 4.37h-4.60z"/><path d="M116.63 342.36l2.30 4.37h-4.60z"/><path d="M121.14 352.36l2.30 4.37h-4.60z"/><path d="M125.66 359.36l2.30 4.37h-4.60z"/><path d="M130.17 367.36l2.30 4.37h-4.60z"/><path d="M134.68 378.16l2.30 4.37h-4.60z"/><path d="M139.19 370.36l2.30 4.37h-4.60z"/><path d="M143.71 314.56l2.30 4.37h-4.60z"/><path d="M148.22 326.96l2.30 4.37h-4.60z"/><path d="M152.73 337.86l2.30 4.37h-4.60z"/><path d="M157.25 330.06l2.30 4.37h-4.60z"/><path d="M159.95 319.66l2.30 4.37h-4.60z"/><path d="M166.27 327.36l2.30 4.37h-4.60z"/><path d="M170.79 322.75l2.30 4.37h-4.60z"/><path d="M175.30 331.96l2.30 4.37h-4.60z"/><path d="M179.81 311.96l2.30 4.37h-4.60z"/><path d="M184.32 310.36l2.30 4.37h-4.60z"/><path d="M188.84 305.86l2.30 4.37h-4.60z"/><path d="M193.35 297.36l2.30 4.37h-4.60z"/><path d="M197.86 293.36l2.30 4.37h-4.60z"/><path d="M202.38 289.36l2.30 4.37h-4.60z"/><path d="M206.89 287.36l2.30 4.37h-4.60z"/><path d="M211.40 286.36l2.30 4.37h-4.60z"/><path d="M215.91 287.36l2.30 4.37h-4.60z"/><path d="M220.43 286.36l2.30 4.37h-4.60z"/><path d="M224.94 284.36l2.30 4.37h-4.60z"/><path d="M233.97 275.06l2.30 4.37h-4.60z"/><path d="M238.48 272.36l2.30 4.37h-4.60z"/><path d="M242.99 269.36l2.30 4.37h-4.60z"/><path d="M247.51 267.36l2.30 4.37h-4.60z"/><path d="M252.02 264.36l2.30 4.37h-4.60z"/><path d="M261.04 269.36l2.30 4.37h-4.60z"/><path d="M265.56 273.66l2.30 4.37h-4.60z"/><path d="M279.10 277.66l2.30 4.37h-4.60z"/><path d="M288.12 280.06l2.30 4.37h-4.60z"/><path d="M301.66 288.06l2.30 4.37h-4.60z"/><path d="M310.69 286.46l2.30 4.37h-4.60z"/><path d="M315.20 287.36l2.30 4.37h-4.60z"/></g>
<path d="M76.0 264.4L80.5 277.1L85.0 277.1L89.6 270.2L94.1 277.0L98.6 283.5L103.1 292.7L107.6 308.0L112.1 313.3L116.6 340.5L121.1 351.3L125.7 309.5L130.2 338.1L134.7 337.4L139.2 340.5L143.7 326.0L148.2 318.0L152.7 305.0L157.2 295.0L160.0 286.0L166.3 287.7L170.8 290.8L175.3 283.8L179.8 284.6L184.3 285.4L188.8 287.0L193.3 288.0L202.4 290.0L215.9 295.4L229.5 296.2L234.9 299.5L238.5 298.7L247.5 293.1L261.0 286.0L270.1 285.0L279.1 286.0L292.6 286.7L301.7 293.1L310.7 292.3L315.2 289.1" stroke="#111" stroke-width="1.1" fill="none" stroke-linejoin="round"/>
<g fill="#111"><rect x="73.91" y="262.30" width="4.20" height="4.20"/><rect x="78.43" y="275.00" width="4.20" height="4.20"/><rect x="82.94" y="275.00" width="4.20" height="4.20"/><rect x="87.45" y="268.10" width="4.20" height="4.20"/><rect x="91.96" y="274.90" width="4.20" height="4.20"/><rect x="96.48" y="281.40" width="4.20" height="4.20"/><rect x="100.99" y="290.60" width="4.20" height="4.20"/><rect x="105.50" y="305.90" width="4.20" height="4.20"/><rect x="110.02" y="311.20" width="4.20" height="4.20"/><rect x="114.53" y="338.40" width="4.20" height="4.20"/><rect x="119.04" y="349.20" width="4.20" height="4.20"/><rect x="123.56" y="307.40" width="4.20" height="4.20"/><rect x="128.07" y="336.00" width="4.20" height="4.20"/><rect x="132.58" y="335.30" width="4.20" height="4.20"/><rect x="137.09" y="338.40" width="4.20" height="4.20"/><rect x="141.61" y="323.90" width="4.20" height="4.20"/><rect x="146.12" y="315.90" width="4.20" height="4.20"/><rect x="150.63" y="302.90" width="4.20" height="4.20"/><rect x="155.15" y="292.90" width="4.20" height="4.20"/><rect x="157.85" y="283.90" width="4.20" height="4.20"/><rect x="164.17" y="285.60" width="4.20" height="4.20"/><rect x="168.69" y="288.70" width="4.20" height="4.20"/><rect x="173.20" y="281.70" width="4.20" height="4.20"/><rect x="177.71" y="282.50" width="4.20" height="4.20"/><rect x="182.22" y="283.30" width="4.20" height="4.20"/><rect x="186.74" y="284.90" width="4.20" height="4.20"/><rect x="191.25" y="285.90" width="4.20" height="4.20"/><rect x="200.28" y="287.90" width="4.20" height="4.20"/><rect x="213.81" y="293.30" width="4.20" height="4.20"/><rect x="227.35" y="294.10" width="4.20" height="4.20"/><rect x="232.77" y="297.40" width="4.20" height="4.20"/><rect x="236.38" y="296.60" width="4.20" height="4.20"/><rect x="245.41" y="291.00" width="4.20" height="4.20"/><rect x="258.94" y="283.90" width="4.20" height="4.20"/><rect x="267.97" y="282.90" width="4.20" height="4.20"/><rect x="277.00" y="283.90" width="4.20" height="4.20"/><rect x="290.54" y="284.60" width="4.20" height="4.20"/><rect x="299.56" y="291.00" width="4.20" height="4.20"/><rect x="308.59" y="290.20" width="4.20" height="4.20"/><rect x="313.10" y="287.00" width="4.20" height="4.20"/></g>
<path d="M85.0 271.3L89.6 265.6L94.1 266.0L98.6 268.0L103.1 270.2L107.6 267.9L112.1 269.0L116.6 273.0L121.1 280.6L124.8 283.5L127.9 287.0L132.4 300.0L136.0 315.7L139.2 335.0L142.8 356.0L148.2 356.0L155.0 335.8L160.0 337.7L166.3 340.8L170.8 330.0L175.3 322.0L179.8 315.0L186.6 303.8L191.1 294.6L197.9 291.5L206.9 290.0L211.4 287.7L218.2 286.2L224.9 283.8L229.5 280.8L234.0 277.7L238.5 274.6L247.5 273.0L256.5 272.0L265.6 271.0L274.6 270.0L283.6 266.0L297.1 263.6L306.2 262.8L315.2 259.6" stroke="#4d4d4d" stroke-width="1.6" fill="none" stroke-linejoin="round"/>
<path d="M328.2 272.0L329.2 263.0L330.5 276.0L331.5 262.0L332.8 277.0L334.0 261.5L335.2 276.0L336.5 264.0L337.6 277.0L338.8 263.0L340.0 276.0L341.2 264.5L342.4 277.0L343.8 265.0L345.0 277.5L346.4 266.0L347.6 277.0L349.0 266.5L350.4 278.0L352.0 266.0L353.3 277.0L354.8 265.5L356.2 277.0L357.5 266.0L358.8 276.0L360.1 257.3L361.4 276.0L362.8 266.0L364.2 277.0L365.5 266.5L367.0 278.0L368.4 267.0L370.0 276.0L372.9 269.2L375.8 268.7L379.6 274.5L383.5 273.5L386.3 271.1L389.2 272.1L393.6 265.4L396.0 269.7L398.8 276.4L400.8 271.1L403.2 271.1L406.5 262.5L408.5 269.7L411.3 275.0L415.2 276.4L418.0 275.0L422.7 271.2L425.0 264.2L427.3 251.2L429.6 265.0L431.2 263.5L432.0 275.8L435.8 281.9L439.6 295.8L442.7 291.2L445.8 286.5L450.0 280.0" stroke="#7a7a7a" stroke-width="1.7" fill="none" stroke-linejoin="round"/>
<path d="M327.9 271.2L328.9 284.5L331.8 282.6L335.6 278.7L338.5 281.6L341.9 283.0L345.2 280.2L349.1 281.6L352.4 281.1L355.3 279.7L358.7 279.2L362.5 281.1L366.4 280.2L370.0 268.7L374.0 280.0L379.6 279.3L383.5 279.3L390.2 275.5L394.0 278.8L400.0 281.0L407.0 279.8L410.9 279.3L418.0 273.1L422.7 272.0L426.5 272.7L431.2 275.0L435.8 278.0L439.6 281.2L444.2 278.8L448.0 278.0L452.7 277.3" stroke="#111" stroke-width="1.1" fill="none" stroke-linejoin="round"/>
<g fill="#111"><circle cx="327.90" cy="271.20" r="2.1"/><circle cx="328.90" cy="284.50" r="2.1"/><circle cx="331.80" cy="282.60" r="2.1"/><circle cx="335.60" cy="278.70" r="2.1"/><circle cx="338.50" cy="281.60" r="2.1"/><circle cx="341.90" cy="283.00" r="2.1"/><circle cx="345.20" cy="280.20" r="2.1"/><circle cx="349.10" cy="281.60" r="2.1"/><circle cx="352.40" cy="281.10" r="2.1"/><circle cx="355.30" cy="279.70" r="2.1"/><circle cx="358.70" cy="279.20" r="2.1"/><circle cx="362.50" cy="281.10" r="2.1"/><circle cx="366.40" cy="280.20" r="2.1"/><circle cx="370.00" cy="268.70" r="2.1"/><circle cx="374.00" cy="280.00" r="2.1"/><circle cx="379.60" cy="279.30" r="2.1"/><circle cx="383.50" cy="279.30" r="2.1"/><circle cx="390.20" cy="275.50" r="2.1"/><circle cx="394.00" cy="278.80" r="2.1"/><circle cx="400.00" cy="281.00" r="2.1"/><circle cx="407.00" cy="279.80" r="2.1"/><circle cx="410.90" cy="279.30" r="2.1"/><circle cx="418.00" cy="273.10" r="2.1"/><circle cx="422.70" cy="272.00" r="2.1"/><circle cx="426.50" cy="272.70" r="2.1"/><circle cx="431.20" cy="275.00" r="2.1"/><circle cx="435.80" cy="278.00" r="2.1"/><circle cx="439.60" cy="281.20" r="2.1"/><circle cx="444.20" cy="278.80" r="2.1"/><circle cx="448.00" cy="278.00" r="2.1"/><circle cx="452.70" cy="277.30" r="2.1"/></g>
<path d="M328.0 288.0L331.8 291.2L335.0 296.0L339.5 294.1L342.0 290.0L345.2 287.9L351.0 288.8L354.8 286.4L358.5 287.0L362.5 292.7L366.4 289.3L370.0 284.1L374.0 287.0L378.0 290.0L382.5 285.1L386.0 288.0L390.2 285.1L395.5 287.5L400.3 288.4L405.6 288.0L408.5 285.1L413.8 281.7L418.0 280.4L420.4 282.7L425.0 285.8L429.6 286.5L435.0 286.5L438.8 282.7L444.2 282.0L450.0 281.0" stroke="#111" stroke-width="1.1" fill="none" stroke-linejoin="round"/>
<g fill="#111"><rect x="325.90" y="285.90" width="4.20" height="4.20"/><rect x="329.70" y="289.10" width="4.20" height="4.20"/><rect x="332.90" y="293.90" width="4.20" height="4.20"/><rect x="337.40" y="292.00" width="4.20" height="4.20"/><rect x="339.90" y="287.90" width="4.20" height="4.20"/><rect x="343.10" y="285.80" width="4.20" height="4.20"/><rect x="348.90" y="286.70" width="4.20" height="4.20"/><rect x="352.70" y="284.30" width="4.20" height="4.20"/><rect x="356.40" y="284.90" width="4.20" height="4.20"/><rect x="360.40" y="290.60" width="4.20" height="4.20"/><rect x="364.30" y="287.20" width="4.20" height="4.20"/><rect x="367.90" y="282.00" width="4.20" height="4.20"/><rect x="371.90" y="284.90" width="4.20" height="4.20"/><rect x="375.90" y="287.90" width="4.20" height="4.20"/><rect x="380.40" y="283.00" width="4.20" height="4.20"/><rect x="383.90" y="285.90" width="4.20" height="4.20"/><rect x="388.10" y="283.00" width="4.20" height="4.20"/><rect x="393.40" y="285.40" width="4.20" height="4.20"/><rect x="398.20" y="286.30" width="4.20" height="4.20"/><rect x="403.50" y="285.90" width="4.20" height="4.20"/><rect x="406.40" y="283.00" width="4.20" height="4.20"/><rect x="411.70" y="279.60" width="4.20" height="4.20"/><rect x="415.90" y="278.30" width="4.20" height="4.20"/><rect x="418.30" y="280.60" width="4.20" height="4.20"/><rect x="422.90" y="283.70" width="4.20" height="4.20"/><rect x="427.50" y="284.40" width="4.20" height="4.20"/><rect x="432.90" y="284.40" width="4.20" height="4.20"/><rect x="436.70" y="280.60" width="4.20" height="4.20"/><rect x="442.10" y="279.90" width="4.20" height="4.20"/><rect x="447.90" y="278.90" width="4.20" height="4.20"/></g>
<path d="M327.4 295.0L329.8 299.9L333.7 302.8L336.6 306.1L340.4 300.8L344.0 298.0L347.2 303.7L348.1 310.5L351.0 299.4L354.0 297.0L356.8 300.8L360.0 295.0L364.5 303.7L367.3 291.2L370.2 294.1L373.8 294.7L377.0 291.0L381.5 296.6L385.4 290.8L390.7 290.8L395.0 292.0L400.0 290.0L406.0 291.0L412.0 293.0L418.0 285.0L424.0 283.0L430.0 288.0L436.0 284.0L442.0 287.0L448.0 283.0" stroke="#111" stroke-width="1.1" fill="none" stroke-linejoin="round"/>
<g fill="#111"><path d="M327.40 292.36l2.30 4.37h-4.60z"/><path d="M329.80 297.25l2.30 4.37h-4.60z"/><path d="M333.70 300.16l2.30 4.37h-4.60z"/><path d="M336.60 303.46l2.30 4.37h-4.60z"/><path d="M340.40 298.16l2.30 4.37h-4.60z"/><path d="M344.00 295.36l2.30 4.37h-4.60z"/><path d="M347.20 301.06l2.30 4.37h-4.60z"/><path d="M348.10 307.86l2.30 4.37h-4.60z"/><path d="M351.00 296.75l2.30 4.37h-4.60z"/><path d="M354.00 294.36l2.30 4.37h-4.60z"/><path d="M356.80 298.16l2.30 4.37h-4.60z"/><path d="M360.00 292.36l2.30 4.37h-4.60z"/><path d="M364.50 301.06l2.30 4.37h-4.60z"/><path d="M367.30 288.56l2.30 4.37h-4.60z"/><path d="M370.20 291.46l2.30 4.37h-4.60z"/><path d="M373.80 292.06l2.30 4.37h-4.60z"/><path d="M377.00 288.36l2.30 4.37h-4.60z"/><path d="M381.50 293.96l2.30 4.37h-4.60z"/><path d="M385.40 288.16l2.30 4.37h-4.60z"/><path d="M390.70 288.16l2.30 4.37h-4.60z"/><path d="M395.00 289.36l2.30 4.37h-4.60z"/><path d="M400.00 287.36l2.30 4.37h-4.60z"/><path d="M406.00 288.36l2.30 4.37h-4.60z"/><path d="M412.00 290.36l2.30 4.37h-4.60z"/><path d="M418.00 282.36l2.30 4.37h-4.60z"/><path d="M424.00 280.36l2.30 4.37h-4.60z"/><path d="M430.00 285.36l2.30 4.37h-4.60z"/><path d="M436.00 281.36l2.30 4.37h-4.60z"/><path d="M442.00 284.36l2.30 4.37h-4.60z"/><path d="M448.00 280.36l2.30 4.37h-4.60z"/></g>
<path d="M328.0 292.0L330.0 303.0L332.0 296.0L334.5 306.0L337.0 298.0L339.0 304.0L342.0 297.0L345.0 300.0L348.0 294.0L351.0 297.0L354.0 292.0L358.0 296.0L362.0 290.0L366.0 295.0L370.0 290.0L374.0 294.0L378.0 289.0L383.0 293.0L390.7 290.8L402.7 337.3L405.6 288.0L410.0 287.0L414.2 281.2L418.0 296.6L422.0 289.6L426.5 298.8L427.3 305.0L431.2 291.2L435.0 286.5L438.8 290.4L444.2 286.5L448.0 285.8" stroke="#111" stroke-width="1.1" fill="none" stroke-linejoin="round"/>
<g fill="#111"><circle cx="328.00" cy="292.00" r="2.1"/><circle cx="330.00" cy="303.00" r="2.1"/><circle cx="332.00" cy="296.00" r="2.1"/><circle cx="334.50" cy="306.00" r="2.1"/><circle cx="337.00" cy="298.00" r="2.1"/><circle cx="339.00" cy="304.00" r="2.1"/><circle cx="342.00" cy="297.00" r="2.1"/><circle cx="345.00" cy="300.00" r="2.1"/><circle cx="348.00" cy="294.00" r="2.1"/><circle cx="351.00" cy="297.00" r="2.1"/><circle cx="354.00" cy="292.00" r="2.1"/><circle cx="358.00" cy="296.00" r="2.1"/><circle cx="362.00" cy="290.00" r="2.1"/><circle cx="366.00" cy="295.00" r="2.1"/><circle cx="370.00" cy="290.00" r="2.1"/><circle cx="374.00" cy="294.00" r="2.1"/><circle cx="378.00" cy="289.00" r="2.1"/><circle cx="383.00" cy="293.00" r="2.1"/><circle cx="390.70" cy="290.80" r="2.1"/><circle cx="402.70" cy="337.30" r="2.1"/><circle cx="405.60" cy="288.00" r="2.1"/><circle cx="410.00" cy="287.00" r="2.1"/><circle cx="414.20" cy="281.20" r="2.1"/><circle cx="418.00" cy="296.60" r="2.1"/><circle cx="422.00" cy="289.60" r="2.1"/><circle cx="426.50" cy="298.80" r="2.1"/><circle cx="427.30" cy="305.00" r="2.1"/><circle cx="431.20" cy="291.20" r="2.1"/><circle cx="435.00" cy="286.50" r="2.1"/><circle cx="438.80" cy="290.40" r="2.1"/><circle cx="444.20" cy="286.50" r="2.1"/><circle cx="448.00" cy="285.80" r="2.1"/></g>
<path d="M327.5 283.0L330.0 289.0L332.5 281.0L335.0 287.0L337.5 280.0L340.0 288.0L342.5 282.0L345.0 289.0L347.5 281.0L350.0 286.0L353.0 280.0L356.0 288.0L359.0 282.0L362.0 287.0L365.0 281.0L368.0 288.0L371.0 282.0L374.0 289.0L377.0 283.0L380.0 288.0L383.0 282.0L386.0 287.0L389.0 281.0L392.0 286.0" stroke="#111" stroke-width="1.1" fill="none" stroke-linejoin="round"/>
<g fill="#111"><circle cx="327.50" cy="283.00" r="2.1"/><circle cx="330.00" cy="289.00" r="2.1"/><circle cx="332.50" cy="281.00" r="2.1"/><circle cx="335.00" cy="287.00" r="2.1"/><circle cx="337.50" cy="280.00" r="2.1"/><circle cx="340.00" cy="288.00" r="2.1"/><circle cx="342.50" cy="282.00" r="2.1"/><circle cx="345.00" cy="289.00" r="2.1"/><circle cx="347.50" cy="281.00" r="2.1"/><circle cx="350.00" cy="286.00" r="2.1"/><circle cx="353.00" cy="280.00" r="2.1"/><circle cx="356.00" cy="288.00" r="2.1"/><circle cx="359.00" cy="282.00" r="2.1"/><circle cx="362.00" cy="287.00" r="2.1"/><circle cx="365.00" cy="281.00" r="2.1"/><circle cx="368.00" cy="288.00" r="2.1"/><circle cx="371.00" cy="282.00" r="2.1"/><circle cx="374.00" cy="289.00" r="2.1"/><circle cx="377.00" cy="283.00" r="2.1"/><circle cx="380.00" cy="288.00" r="2.1"/><circle cx="383.00" cy="282.00" r="2.1"/><circle cx="386.00" cy="287.00" r="2.1"/><circle cx="389.00" cy="281.00" r="2.1"/><circle cx="392.00" cy="286.00" r="2.1"/></g>
<path d="M62.3 506.1L66.9 509.5L71.5 554.3L76.0 598.2L80.6 540.7L85.2 532.3L89.8 531.0L94.4 526.4L98.9 535.7L103.5 518.8L108.1 517.5L112.7 528.8L117.3 520.0L121.8 515.0L126.4 522.5L131.0 510.0L135.6 507.5L140.2 528.8L144.8 517.5L149.3 520.0L153.9 527.5L158.5 520.0L163.1 517.5L167.7 538.8L172.2 522.5L176.8 537.5L181.4 546.0L186.0 526.8L190.6 521.6L195.1 524.0L199.7 539.7L206.6 525.5L208.9 530.6L218.0 548.8L222.6 515.0L227.2 506.0L236.4 517.7L245.5 525.5L250.1 537.0L259.3 485.2L268.4 493.0L277.6 504.7L286.7 502.0L295.9 493.0L300.5 484.0L309.6 491.7" stroke="#111" stroke-width="1.1" fill="none" stroke-linejoin="round"/>
<g fill="#111"><circle cx="62.30" cy="506.10" r="2.1"/><circle cx="66.88" cy="509.50" r="2.1"/><circle cx="71.46" cy="554.30" r="2.1"/><circle cx="76.04" cy="598.20" r="2.1"/><circle cx="80.62" cy="540.70" r="2.1"/><circle cx="85.20" cy="532.30" r="2.1"/><circle cx="89.78" cy="531.00" r="2.1"/><circle cx="94.36" cy="526.40" r="2.1"/><circle cx="98.94" cy="535.70" r="2.1"/><circle cx="103.52" cy="518.80" r="2.1"/><circle cx="108.11" cy="517.50" r="2.1"/><circle cx="112.69" cy="528.75" r="2.1"/><circle cx="117.27" cy="520.00" r="2.1"/><circle cx="121.85" cy="515.00" r="2.1"/><circle cx="126.43" cy="522.50" r="2.1"/><circle cx="131.01" cy="510.00" r="2.1"/><circle cx="135.59" cy="507.50" r="2.1"/><circle cx="140.17" cy="528.75" r="2.1"/><circle cx="144.75" cy="517.50" r="2.1"/><circle cx="149.33" cy="520.00" r="2.1"/><circle cx="153.91" cy="527.50" r="2.1"/><circle cx="158.49" cy="520.00" r="2.1"/><circle cx="163.07" cy="517.50" r="2.1"/><circle cx="167.65" cy="538.75" r="2.1"/><circle cx="172.23" cy="522.50" r="2.1"/><circle cx="176.81" cy="537.50" r="2.1"/><circle cx="181.39" cy="546.00" r="2.1"/><circle cx="185.97" cy="526.75" r="2.1"/><circle cx="190.56" cy="521.60" r="2.1"/><circle cx="195.14" cy="524.00" r="2.1"/><circle cx="199.72" cy="539.70" r="2.1"/><circle cx="206.59" cy="525.50" r="2.1"/><circle cx="208.88" cy="530.60" r="2.1"/><circle cx="218.04" cy="548.80" r="2.1"/><circle cx="222.62" cy="515.00" r="2.1"/><circle cx="227.20" cy="506.00" r="2.1"/><circle cx="236.36" cy="517.70" r="2.1"/><circle cx="245.52" cy="525.50" r="2.1"/><circle cx="250.10" cy="537.00" r="2.1"/><circle cx="259.26" cy="485.20" r="2.1"/><circle cx="268.42" cy="493.00" r="2.1"/><circle cx="277.59" cy="504.70" r="2.1"/><circle cx="286.75" cy="502.00" r="2.1"/><circle cx="295.91" cy="493.00" r="2.1"/><circle cx="300.49" cy="484.00" r="2.1"/><circle cx="309.65" cy="491.70" r="2.1"/></g>
<path d="M80.6 540.7L85.2 555.0L89.8 565.0L94.4 563.8L98.9 565.0L103.5 567.5L108.1 558.0L112.7 563.8L117.3 556.0L121.8 561.2L126.4 553.8L131.0 548.0L135.6 555.0L140.2 552.0L144.8 558.8L149.3 556.0L153.9 550.0L158.5 552.0L163.1 551.2L167.7 545.0L172.2 548.0L176.8 552.0L181.4 565.4L186.0 549.2L190.6 570.8L195.1 552.0L199.7 575.4L204.3 555.4L208.9 573.0L213.5 552.3L218.0 577.7L222.6 553.8L227.2 530.0L231.8 520.0L236.4 517.7L240.9 530.0L245.5 560.5L250.1 540.0L259.3 521.6L263.8 502.0L273.0 521.6L282.2 506.0L291.3 506.0L300.5 513.8L309.6 513.8" stroke="#111" stroke-width="1.1" fill="none" stroke-linejoin="round"/>
<g fill="#111"><path d="M80.62 538.90l1.50 1.80l-1.50 1.80l-1.50 -1.80z"/><path d="M85.20 553.20l1.50 1.80l-1.50 1.80l-1.50 -1.80z"/><path d="M89.78 563.20l1.50 1.80l-1.50 1.80l-1.50 -1.80z"/><path d="M94.36 561.95l1.50 1.80l-1.50 1.80l-1.50 -1.80z"/><path d="M98.94 563.20l1.50 1.80l-1.50 1.80l-1.50 -1.80z"/><path d="M103.52 565.70l1.50 1.80l-1.50 1.80l-1.50 -1.80z"/><path d="M108.11 556.20l1.50 1.80l-1.50 1.80l-1.50 -1.80z"/><path d="M112.69 561.95l1.50 1.80l-1.50 1.80l-1.50 -1.80z"/><path d="M117.27 554.20l1.50 1.80l-1.50 1.80l-1.50 -1.80z"/><path d="M121.85 559.45l1.50 1.80l-1.50 1.80l-1.50 -1.80z"/><path d="M126.43 551.95l1.50 1.80l-1.50 1.80l-1.50 -1.80z"/><path d="M131.01 546.20l1.50 1.80l-1.50 1.80l-1.50 -1.80z"/><path d="M135.59 553.20l1.50 1.80l-1.50 1.80l-1.50 -1.80z"/><path d="M140.17 550.20l1.50 1.80l-1.50 1.80l-1.50 -1.80z"/><path d="M144.75 556.95l1.50 1.80l-1.50 1.80l-1.50 -1.80z"/><path d="M149.33 554.20l1.50 1.80l-1.50 1.80l-1.50 -1.80z"/><path d="M153.91 548.20l1.50 1.80l-1.50 1.80l-1.50 -1.80z"/><path d="M158.49 550.20l1.50 1.80l-1.50 1.80l-1.50 -1.80z"/><path d="M163.07 549.45l1.50 1.80l-1.50 1.80l-1.50 -1.80z"/><path d="M167.65 543.20l1.50 1.80l-1.50 1.80l-1.50 -1.80z"/><path d="M172.23 546.20l1.50 1.80l-1.50 1.80l-1.50 -1.80z"/><path d="M176.81 550.20l1.50 1.80l-1.50 1.80l-1.50 -1.80z"/><path d="M181.39 563.60l1.50 1.80l-1.50 1.80l-1.50 -1.80z"/><path d="M185.97 547.40l1.50 1.80l-1.50 1.80l-1.50 -1.80z"/><path d="M190.56 569.00l1.50 1.80l-1.50 1.80l-1.50 -1.80z"/><path d="M195.14 550.20l1.50 1.80l-1.50 1.80l-1.50 -1.80z"/><path d="M199.72 573.60l1.50 1.80l-1.50 1.80l-1.50 -1.80z"/><path d="M204.30 553.60l1.50 1.80l-1.50 1.80l-1.50 -1.80z"/><path d="M208.88 571.20l1.50 1.80l-1.50 1.80l-1.50 -1.80z"/><path d="M213.46 550.50l1.50 1.80l-1.50 1.80l-1.50 -1.80z"/><path d="M218.04 575.90l1.50 1.80l-1.50 1.80l-1.50 -1.80z"/><path d="M222.62 552.00l1.50 1.80l-1.50 1.80l-1.50 -1.80z"/><path d="M227.20 528.20l1.50 1.80l-1.50 1.80l-1.50 -1.80z"/><path d="M231.78 518.20l1.50 1.80l-1.50 1.80l-1.50 -1.80z"/><path d="M236.36 515.90l1.50 1.80l-1.50 1.80l-1.50 -1.80z"/><path d="M240.94 528.20l1.50 1.80l-1.50 1.80l-1.50 -1.80z"/><path d="M245.52 558.70l1.50 1.80l-1.50 1.80l-1.50 -1.80z"/><path d="M250.10 538.20l1.50 1.80l-1.50 1.80l-1.50 -1.80z"/><path d="M259.26 519.80l1.50 1.80l-1.50 1.80l-1.50 -1.80z"/><path d="M263.84 500.20l1.50 1.80l-1.50 1.80l-1.50 -1.80z"/><path d="M273.01 519.80l1.50 1.80l-1.50 1.80l-1.50 -1.80z"/><path d="M282.17 504.20l1.50 1.80l-1.50 1.80l-1.50 -1.80z"/><path d="M291.33 504.20l1.50 1.80l-1.50 1.80l-1.50 -1.80z"/><path d="M300.49 512.00l1.50 1.80l-1.50 1.80l-1.50 -1.80z"/><path d="M309.65 512.00l1.50 1.80l-1.50 1.80l-1.50 -1.80z"/></g>
<path d="M62.3 496.0L80.6 564.4L85.2 567.8L89.8 549.2L94.4 555.0L98.9 550.0L103.5 554.3L108.1 544.1L112.7 548.0L117.3 545.0L121.8 552.0L126.4 546.0L131.0 540.0L135.6 545.0L140.2 535.0L144.8 542.0L149.3 545.0L153.9 538.0L158.5 544.0L163.1 540.0L167.7 542.0L172.2 536.0L176.8 545.0L181.4 548.5L186.0 540.0L190.6 544.6L195.1 542.3L199.7 535.4L208.9 532.0L213.5 540.0L218.0 548.5L222.6 554.0L231.8 541.0L240.9 563.0L245.5 563.0L257.0 516.4L263.8 503.4L268.4 525.5L273.0 521.6L282.2 513.8L291.3 528.0L305.1 522.9L309.6 518.0" stroke="#111" stroke-width="1.1" fill="none" stroke-linejoin="round"/>
<g fill="#111"><path d="M62.30 493.36l2.30 4.37h-4.60z"/><path d="M80.62 561.75l2.30 4.37h-4.60z"/><path d="M85.20 565.15l2.30 4.37h-4.60z"/><path d="M89.78 546.56l2.30 4.37h-4.60z"/><path d="M94.36 552.36l2.30 4.37h-4.60z"/><path d="M98.94 547.36l2.30 4.37h-4.60z"/><path d="M103.52 551.65l2.30 4.37h-4.60z"/><path d="M108.11 541.46l2.30 4.37h-4.60z"/><path d="M112.69 545.36l2.30 4.37h-4.60z"/><path d="M117.27 542.36l2.30 4.37h-4.60z"/><path d="M121.85 549.36l2.30 4.37h-4.60z"/><path d="M126.43 543.36l2.30 4.37h-4.60z"/><path d="M131.01 537.36l2.30 4.37h-4.60z"/><path d="M135.59 542.36l2.30 4.37h-4.60z"/><path d="M140.17 532.36l2.30 4.37h-4.60z"/><path d="M144.75 539.36l2.30 4.37h-4.60z"/><path d="M149.33 542.36l2.30 4.37h-4.60z"/><path d="M153.91 535.36l2.30 4.37h-4.60z"/><path d="M158.49 541.36l2.30 4.37h-4.60z"/><path d="M163.07 537.36l2.30 4.37h-4.60z"/><path d="M167.65 539.36l2.30 4.37h-4.60z"/><path d="M172.23 533.36l2.30 4.37h-4.60z"/><path d="M176.81 542.36l2.30 4.37h-4.60z"/><path d="M181.39 545.86l2.30 4.37h-4.60z"/><path d="M185.97 537.36l2.30 4.37h-4.60z"/><path d="M190.56 541.96l2.30 4.37h-4.60z"/><path d="M195.14 539.65l2.30 4.37h-4.60z"/><path d="M199.72 532.75l2.30 4.37h-4.60z"/><path d="M208.88 529.36l2.30 4.37h-4.60z"/><path d="M213.46 537.36l2.30 4.37h-4.60z"/><path d="M218.04 545.86l2.30 4.37h-4.60z"/><path d="M222.62 551.36l2.30 4.37h-4.60z"/><path d="M231.78 538.36l2.30 4.37h-4.60z"/><path d="M240.94 560.36l2.30 4.37h-4.60z"/><path d="M245.52 560.36l2.30 4.37h-4.60z"/><path d="M256.97 513.75l2.30 4.37h-4.60z"/><path d="M263.84 500.75l2.30 4.37h-4.60z"/><path d="M268.42 522.86l2.30 4.37h-4.60z"/><path d="M273.01 518.96l2.30 4.37h-4.60z"/><path d="M282.17 511.15l2.30 4.37h-4.60z"/><path d="M291.33 525.36l2.30 4.37h-4.60z"/><path d="M305.07 520.25l2.30 4.37h-4.60z"/><path d="M309.65 515.36l2.30 4.37h-4.60z"/></g>
<path d="M62.3 506.1L66.9 509.5L71.5 543.3L76.0 574.5L85.2 599.9L89.8 586.3L94.4 543.3L98.9 547.5L103.5 554.3L108.1 558.5L112.7 540.0L117.3 538.8L121.8 540.0L126.4 538.8L131.0 582.5L135.6 545.0L140.2 535.0L144.8 545.0L149.3 548.0L153.9 568.8L158.5 548.0L163.1 551.2L167.7 545.0L172.2 550.0L176.8 545.0L181.4 556.6" stroke="#111" stroke-width="1.1" fill="none" stroke-linejoin="round"/>
<g fill="#111"><rect x="60.20" y="504.00" width="4.20" height="4.20"/><rect x="64.78" y="507.40" width="4.20" height="4.20"/><rect x="69.36" y="541.20" width="4.20" height="4.20"/><rect x="73.94" y="572.40" width="4.20" height="4.20"/><rect x="83.10" y="597.80" width="4.20" height="4.20"/><rect x="87.68" y="584.20" width="4.20" height="4.20"/><rect x="92.26" y="541.20" width="4.20" height="4.20"/><rect x="96.84" y="545.40" width="4.20" height="4.20"/><rect x="101.42" y="552.20" width="4.20" height="4.20"/><rect x="106.01" y="556.40" width="4.20" height="4.20"/><rect x="110.59" y="537.90" width="4.20" height="4.20"/><rect x="115.17" y="536.65" width="4.20" height="4.20"/><rect x="119.75" y="537.90" width="4.20" height="4.20"/><rect x="124.33" y="536.65" width="4.20" height="4.20"/><rect x="128.91" y="580.40" width="4.20" height="4.20"/><rect x="133.49" y="542.90" width="4.20" height="4.20"/><rect x="138.07" y="532.90" width="4.20" height="4.20"/><rect x="142.65" y="542.90" width="4.20" height="4.20"/><rect x="147.23" y="545.90" width="4.20" height="4.20"/><rect x="151.81" y="566.65" width="4.20" height="4.20"/><rect x="156.39" y="545.90" width="4.20" height="4.20"/><rect x="160.97" y="549.15" width="4.20" height="4.20"/><rect x="165.55" y="542.90" width="4.20" height="4.20"/><rect x="170.13" y="547.90" width="4.20" height="4.20"/><rect x="174.71" y="542.90" width="4.20" height="4.20"/><rect x="179.29" y="554.50" width="4.20" height="4.20"/></g>
<path d="M181.4 556.6L190.6 559.0L199.7 560.0L208.9 561.8L213.5 551.4L221.7 554.0L231.8 541.0L235.9 535.8L240.9 563.1L245.1 563.1L250.1 537.1L255.1 516.4L262.9 510.0L268.4 520.0L273.5 518.0L281.3 510.0L291.3 512.0L300.5 508.0L309.6 505.0" stroke="#111" stroke-width="1.1" fill="none" stroke-linejoin="round"/>
<g fill="#111"><path d="M181.39 554.80l1.50 1.80l-1.50 1.80l-1.50 -1.80z"/><path d="M190.56 557.20l1.50 1.80l-1.50 1.80l-1.50 -1.80z"/><path d="M199.72 558.20l1.50 1.80l-1.50 1.80l-1.50 -1.80z"/><path d="M208.88 560.00l1.50 1.80l-1.50 1.80l-1.50 -1.80z"/><path d="M213.46 549.60l1.50 1.80l-1.50 1.80l-1.50 -1.80z"/><path d="M221.70 552.20l1.50 1.80l-1.50 1.80l-1.50 -1.80z"/><path d="M231.78 539.20l1.50 1.80l-1.50 1.80l-1.50 -1.80z"/><path d="M235.90 534.00l1.50 1.80l-1.50 1.80l-1.50 -1.80z"/><path d="M240.94 561.30l1.50 1.80l-1.50 1.80l-1.50 -1.80z"/><path d="M245.06 561.30l1.50 1.80l-1.50 1.80l-1.50 -1.80z"/><path d="M250.10 535.30l1.50 1.80l-1.50 1.80l-1.50 -1.80z"/><path d="M255.14 514.60l1.50 1.80l-1.50 1.80l-1.50 -1.80z"/><path d="M262.93 508.20l1.50 1.80l-1.50 1.80l-1.50 -1.80z"/><path d="M268.42 518.20l1.50 1.80l-1.50 1.80l-1.50 -1.80z"/><path d="M273.46 516.20l1.50 1.80l-1.50 1.80l-1.50 -1.80z"/><path d="M281.25 508.20l1.50 1.80l-1.50 1.80l-1.50 -1.80z"/><path d="M291.33 510.20l1.50 1.80l-1.50 1.80l-1.50 -1.80z"/><path d="M300.49 506.20l1.50 1.80l-1.50 1.80l-1.50 -1.80z"/><path d="M309.65 503.20l1.50 1.80l-1.50 1.80l-1.50 -1.80z"/></g>
<path d="M75.1 501.9L80.6 498.5L85.2 510.0L90.7 520.5L94.4 534.0L98.9 550.0L103.5 540.7L108.1 536.0L109.9 533.8L112.7 537.0L117.3 540.0L121.8 538.0L126.4 540.0L131.0 545.0L135.6 542.0L142.5 535.0L149.3 540.0L153.9 533.8L158.5 545.0L163.1 548.0L167.7 545.0L172.2 548.0L176.8 550.0L181.4 552.0L186.0 553.0L190.6 553.0L195.1 552.0L201.1 550.8L203.4 541.5L210.7 540.8L213.5 544.0L218.0 540.0L222.6 535.0L231.8 530.6L240.9 522.9L254.7 520.3L268.4 519.0L279.9 507.3L289.0 502.1L300.5 499.5L309.6 500.8" stroke="#4d4d4d" stroke-width="1.6" fill="none" stroke-linejoin="round"/>
<path d="M322.0 512.0L328.0 503.0L334.0 512.0L340.0 504.0L346.0 511.0L352.0 503.0L358.0 510.0L364.0 503.0L370.0 510.0L378.0 505.0L386.0 506.0L392.0 508.0L398.0 503.0L404.0 497.0L409.0 496.0L414.2 493.8L418.0 498.0L424.0 500.0L430.0 498.0L435.0 499.0L439.5 497.9L445.0 500.0L451.8 504.4" stroke="#4d4d4d" stroke-width="1.6" fill="none" stroke-linejoin="round"/>
<path d="M321.5 505.0L323.2 499.9L324.3 477.5L325.5 499.0L328.5 499.2L332.7 499.2L336.2 502.7L338.0 495.3L341.8 497.8L345.0 506.0L348.2 496.0L350.3 486.5L352.4 497.1L355.2 486.9L358.5 500.0L363.0 492.0L366.0 503.0L368.8 490.2L372.0 500.0L376.0 496.0L381.5 498.7L385.0 504.0L388.1 506.9L392.2 500.3L399.0 497.0L406.0 493.8L410.1 500.3L418.3 502.0L423.2 497.9L427.3 514.2L431.4 505.2L436.3 493.0L440.4 504.4L445.3 506.0L450.2 510.1L454.2 502.0" stroke="#111" stroke-width="1.1" fill="none" stroke-linejoin="round"/>
<g fill="#111"><path d="M321.50 503.20l1.50 1.80l-1.50 1.80l-1.50 -1.80z"/><path d="M323.20 498.10l1.50 1.80l-1.50 1.80l-1.50 -1.80z"/><path d="M324.30 475.70l1.50 1.80l-1.50 1.80l-1.50 -1.80z"/><path d="M325.50 497.20l1.50 1.80l-1.50 1.80l-1.50 -1.80z"/><path d="M328.50 497.40l1.50 1.80l-1.50 1.80l-1.50 -1.80z"/><path d="M332.70 497.40l1.50 1.80l-1.50 1.80l-1.50 -1.80z"/><path d="M336.20 500.90l1.50 1.80l-1.50 1.80l-1.50 -1.80z"/><path d="M338.00 493.50l1.50 1.80l-1.50 1.80l-1.50 -1.80z"/><path d="M341.80 496.00l1.50 1.80l-1.50 1.80l-1.50 -1.80z"/><path d="M345.00 504.20l1.50 1.80l-1.50 1.80l-1.50 -1.80z"/><path d="M348.20 494.20l1.50 1.80l-1.50 1.80l-1.50 -1.80z"/><path d="M350.30 484.70l1.50 1.80l-1.50 1.80l-1.50 -1.80z"/><path d="M352.40 495.30l1.50 1.80l-1.50 1.80l-1.50 -1.80z"/><path d="M355.20 485.10l1.50 1.80l-1.50 1.80l-1.50 -1.80z"/><path d="M358.50 498.20l1.50 1.80l-1.50 1.80l-1.50 -1.80z"/><path d="M363.00 490.20l1.50 1.80l-1.50 1.80l-1.50 -1.80z"/><path d="M366.00 501.20l1.50 1.80l-1.50 1.80l-1.50 -1.80z"/><path d="M368.80 488.40l1.50 1.80l-1.50 1.80l-1.50 -1.80z"/><path d="M372.00 498.20l1.50 1.80l-1.50 1.80l-1.50 -1.80z"/><path d="M376.00 494.20l1.50 1.80l-1.50 1.80l-1.50 -1.80z"/><path d="M381.50 496.90l1.50 1.80l-1.50 1.80l-1.50 -1.80z"/><path d="M385.00 502.20l1.50 1.80l-1.50 1.80l-1.50 -1.80z"/><path d="M388.10 505.10l1.50 1.80l-1.50 1.80l-1.50 -1.80z"/><path d="M392.20 498.50l1.50 1.80l-1.50 1.80l-1.50 -1.80z"/><path d="M399.00 495.20l1.50 1.80l-1.50 1.80l-1.50 -1.80z"/><path d="M406.00 492.00l1.50 1.80l-1.50 1.80l-1.50 -1.80z"/><path d="M410.10 498.50l1.50 1.80l-1.50 1.80l-1.50 -1.80z"/><path d="M418.30 500.20l1.50 1.80l-1.50 1.80l-1.50 -1.80z"/><path d="M423.20 496.10l1.50 1.80l-1.50 1.80l-1.50 -1.80z"/><path d="M427.30 512.40l1.50 1.80l-1.50 1.80l-1.50 -1.80z"/><path d="M431.40 503.40l1.50 1.80l-1.50 1.80l-1.50 -1.80z"/><path d="M436.30 491.20l1.50 1.80l-1.50 1.80l-1.50 -1.80z"/><path d="M440.40 502.60l1.50 1.80l-1.50 1.80l-1.50 -1.80z"/><path d="M445.30 504.20l1.50 1.80l-1.50 1.80l-1.50 -1.80z"/><path d="M450.20 508.30l1.50 1.80l-1.50 1.80l-1.50 -1.80z"/><path d="M454.20 500.20l1.50 1.80l-1.50 1.80l-1.50 -1.80z"/></g>
<path d="M322.0 508.0L324.2 517.5L326.0 508.0L328.5 525.3L330.2 528.8L333.0 510.0L336.0 518.0L338.5 506.0L341.1 529.1L344.0 513.0L347.0 505.0L351.0 514.7L354.0 506.0L357.0 518.0L360.7 526.5L363.0 510.0L365.3 530.0L368.0 512.0L371.0 506.0L374.5 520.8L378.0 510.0L383.2 528.9L388.1 506.9L393.8 513.4L398.7 500.3L403.6 509.3L408.5 515.8L414.2 510.1L418.3 511.0L422.4 520.8L431.4 509.3L436.3 507.7L441.0 511.0L446.0 510.0L451.8 513.4" stroke="#111" stroke-width="1.1" fill="none" stroke-linejoin="round"/>
<g fill="#111"><circle cx="322.00" cy="508.00" r="2.1"/><circle cx="324.20" cy="517.50" r="2.1"/><circle cx="326.00" cy="508.00" r="2.1"/><circle cx="328.50" cy="525.30" r="2.1"/><circle cx="330.20" cy="528.80" r="2.1"/><circle cx="333.00" cy="510.00" r="2.1"/><circle cx="336.00" cy="518.00" r="2.1"/><circle cx="338.50" cy="506.00" r="2.1"/><circle cx="341.10" cy="529.10" r="2.1"/><circle cx="344.00" cy="513.00" r="2.1"/><circle cx="347.00" cy="505.00" r="2.1"/><circle cx="351.00" cy="514.70" r="2.1"/><circle cx="354.00" cy="506.00" r="2.1"/><circle cx="357.00" cy="518.00" r="2.1"/><circle cx="360.70" cy="526.50" r="2.1"/><circle cx="363.00" cy="510.00" r="2.1"/><circle cx="365.30" cy="530.00" r="2.1"/><circle cx="368.00" cy="512.00" r="2.1"/><circle cx="371.00" cy="506.00" r="2.1"/><circle cx="374.50" cy="520.80" r="2.1"/><circle cx="378.00" cy="510.00" r="2.1"/><circle cx="383.20" cy="528.90" r="2.1"/><circle cx="388.10" cy="506.90" r="2.1"/><circle cx="393.80" cy="513.40" r="2.1"/><circle cx="398.70" cy="500.30" r="2.1"/><circle cx="403.60" cy="509.30" r="2.1"/><circle cx="408.50" cy="515.80" r="2.1"/><circle cx="414.20" cy="510.10" r="2.1"/><circle cx="418.30" cy="511.00" r="2.1"/><circle cx="422.40" cy="520.80" r="2.1"/><circle cx="431.40" cy="509.30" r="2.1"/><circle cx="436.30" cy="507.70" r="2.1"/><circle cx="441.00" cy="511.00" r="2.1"/><circle cx="446.00" cy="510.00" r="2.1"/><circle cx="451.80" cy="513.40" r="2.1"/></g>
<path d="M322.0 518.0L325.0 506.0L329.0 520.0L333.0 505.0L337.0 522.0L341.0 508.0L345.0 524.0L349.0 508.0L353.0 521.0L357.0 504.0L361.0 518.0L365.0 504.0L369.0 520.0L373.0 504.0L377.0 516.0L381.0 506.0L385.0 514.0L388.0 522.0L393.8 513.4L399.5 537.9L404.4 530.6L410.0 520.0L415.8 518.3L424.0 533.0L428.9 527.3L433.0 512.6L436.3 517.5L441.2 514.2L445.3 516.7L450.2 524.0" stroke="#111" stroke-width="1.1" fill="none" stroke-linejoin="round"/>
<g fill="#111"><path d="M322.00 515.36l2.30 4.37h-4.60z"/><path d="M325.00 503.36l2.30 4.37h-4.60z"/><path d="M329.00 517.36l2.30 4.37h-4.60z"/><path d="M333.00 502.36l2.30 4.37h-4.60z"/><path d="M337.00 519.36l2.30 4.37h-4.60z"/><path d="M341.00 505.36l2.30 4.37h-4.60z"/><path d="M345.00 521.36l2.30 4.37h-4.60z"/><path d="M349.00 505.36l2.30 4.37h-4.60z"/><path d="M353.00 518.36l2.30 4.37h-4.60z"/><path d="M357.00 501.36l2.30 4.37h-4.60z"/><path d="M361.00 515.36l2.30 4.37h-4.60z"/><path d="M365.00 501.36l2.30 4.37h-4.60z"/><path d="M369.00 517.36l2.30 4.37h-4.60z"/><path d="M373.00 501.36l2.30 4.37h-4.60z"/><path d="M377.00 513.36l2.30 4.37h-4.60z"/><path d="M381.00 503.36l2.30 4.37h-4.60z"/><path d="M385.00 511.36l2.30 4.37h-4.60z"/><path d="M388.00 519.36l2.30 4.37h-4.60z"/><path d="M393.80 510.75l2.30 4.37h-4.60z"/><path d="M399.50 535.25l2.30 4.37h-4.60z"/><path d="M404.40 527.96l2.30 4.37h-4.60z"/><path d="M410.00 517.36l2.30 4.37h-4.60z"/><path d="M415.80 515.65l2.30 4.37h-4.60z"/><path d="M424.00 530.36l2.30 4.37h-4.60z"/><path d="M428.90 524.65l2.30 4.37h-4.60z"/><path d="M433.00 509.96l2.30 4.37h-4.60z"/><path d="M436.30 514.86l2.30 4.37h-4.60z"/><path d="M441.20 511.56l2.30 4.37h-4.60z"/><path d="M445.30 514.06l2.30 4.37h-4.60z"/><path d="M450.20 521.36l2.30 4.37h-4.60z"/></g>
<path d="M322.0 500.0L326.0 514.0L330.0 503.0L334.0 518.0L338.0 502.0L342.0 516.0L346.0 501.0L350.0 514.0L355.0 502.0L360.0 514.0L365.0 500.0L370.0 512.0L376.0 502.0L382.0 514.0L388.0 503.0L396.0 512.0L402.0 527.3" stroke="#111" stroke-width="1.1" fill="none" stroke-linejoin="round"/>
<g fill="#111"><rect x="319.90" y="497.90" width="4.20" height="4.20"/><rect x="323.90" y="511.90" width="4.20" height="4.20"/><rect x="327.90" y="500.90" width="4.20" height="4.20"/><rect x="331.90" y="515.90" width="4.20" height="4.20"/><rect x="335.90" y="499.90" width="4.20" height="4.20"/><rect x="339.90" y="513.90" width="4.20" height="4.20"/><rect x="343.90" y="498.90" width="4.20" height="4.20"/><rect x="347.90" y="511.90" width="4.20" height="4.20"/><rect x="352.90" y="499.90" width="4.20" height="4.20"/><rect x="357.90" y="511.90" width="4.20" height="4.20"/><rect x="362.90" y="497.90" width="4.20" height="4.20"/><rect x="367.90" y="509.90" width="4.20" height="4.20"/><rect x="373.90" y="499.90" width="4.20" height="4.20"/><rect x="379.90" y="511.90" width="4.20" height="4.20"/><rect x="385.90" y="500.90" width="4.20" height="4.20"/><rect x="393.90" y="509.90" width="4.20" height="4.20"/><rect x="399.90" y="525.20" width="4.20" height="4.20"/></g>
<path d="M31.2 703H59.2" stroke="#111" stroke-width="1.1"/>
<g fill="#111"><path d="M45.80 700.96l1.70 2.04l-1.70 2.04l-1.70 -2.04z"/></g>
<text x="63.4" y="707.9" font-size="15.2">E974</text>
<path d="M139.3 703H167.6" stroke="#111" stroke-width="1.1"/>
<g fill="#111"><circle cx="153.80" cy="703.00" r="1.8"/></g>
<text x="171.7" y="707.9" font-size="15.2">E979</text>
<path d="M243.4 703H270.6" stroke="#111" stroke-width="1.1"/>
<g fill="#111"><path d="M257.20 700.82l1.90 3.61h-3.80z"/></g>
<text x="275.2" y="707.9" font-size="15.2">E986</text>
<path d="M328.2 703H356.6" stroke="#111" stroke-width="1.1"/>
<g fill="#111"><rect x="341.90" y="701.40" width="3.20" height="3.20"/></g>
<text x="360.5" y="707.9" font-size="15.2">G110</text>
<path d="M412.7 703H441" stroke="#777" stroke-width="2"/>
<text x="445.6" y="707.9" font-size="15.2">MedianTBI</text>
</svg></body></html>
